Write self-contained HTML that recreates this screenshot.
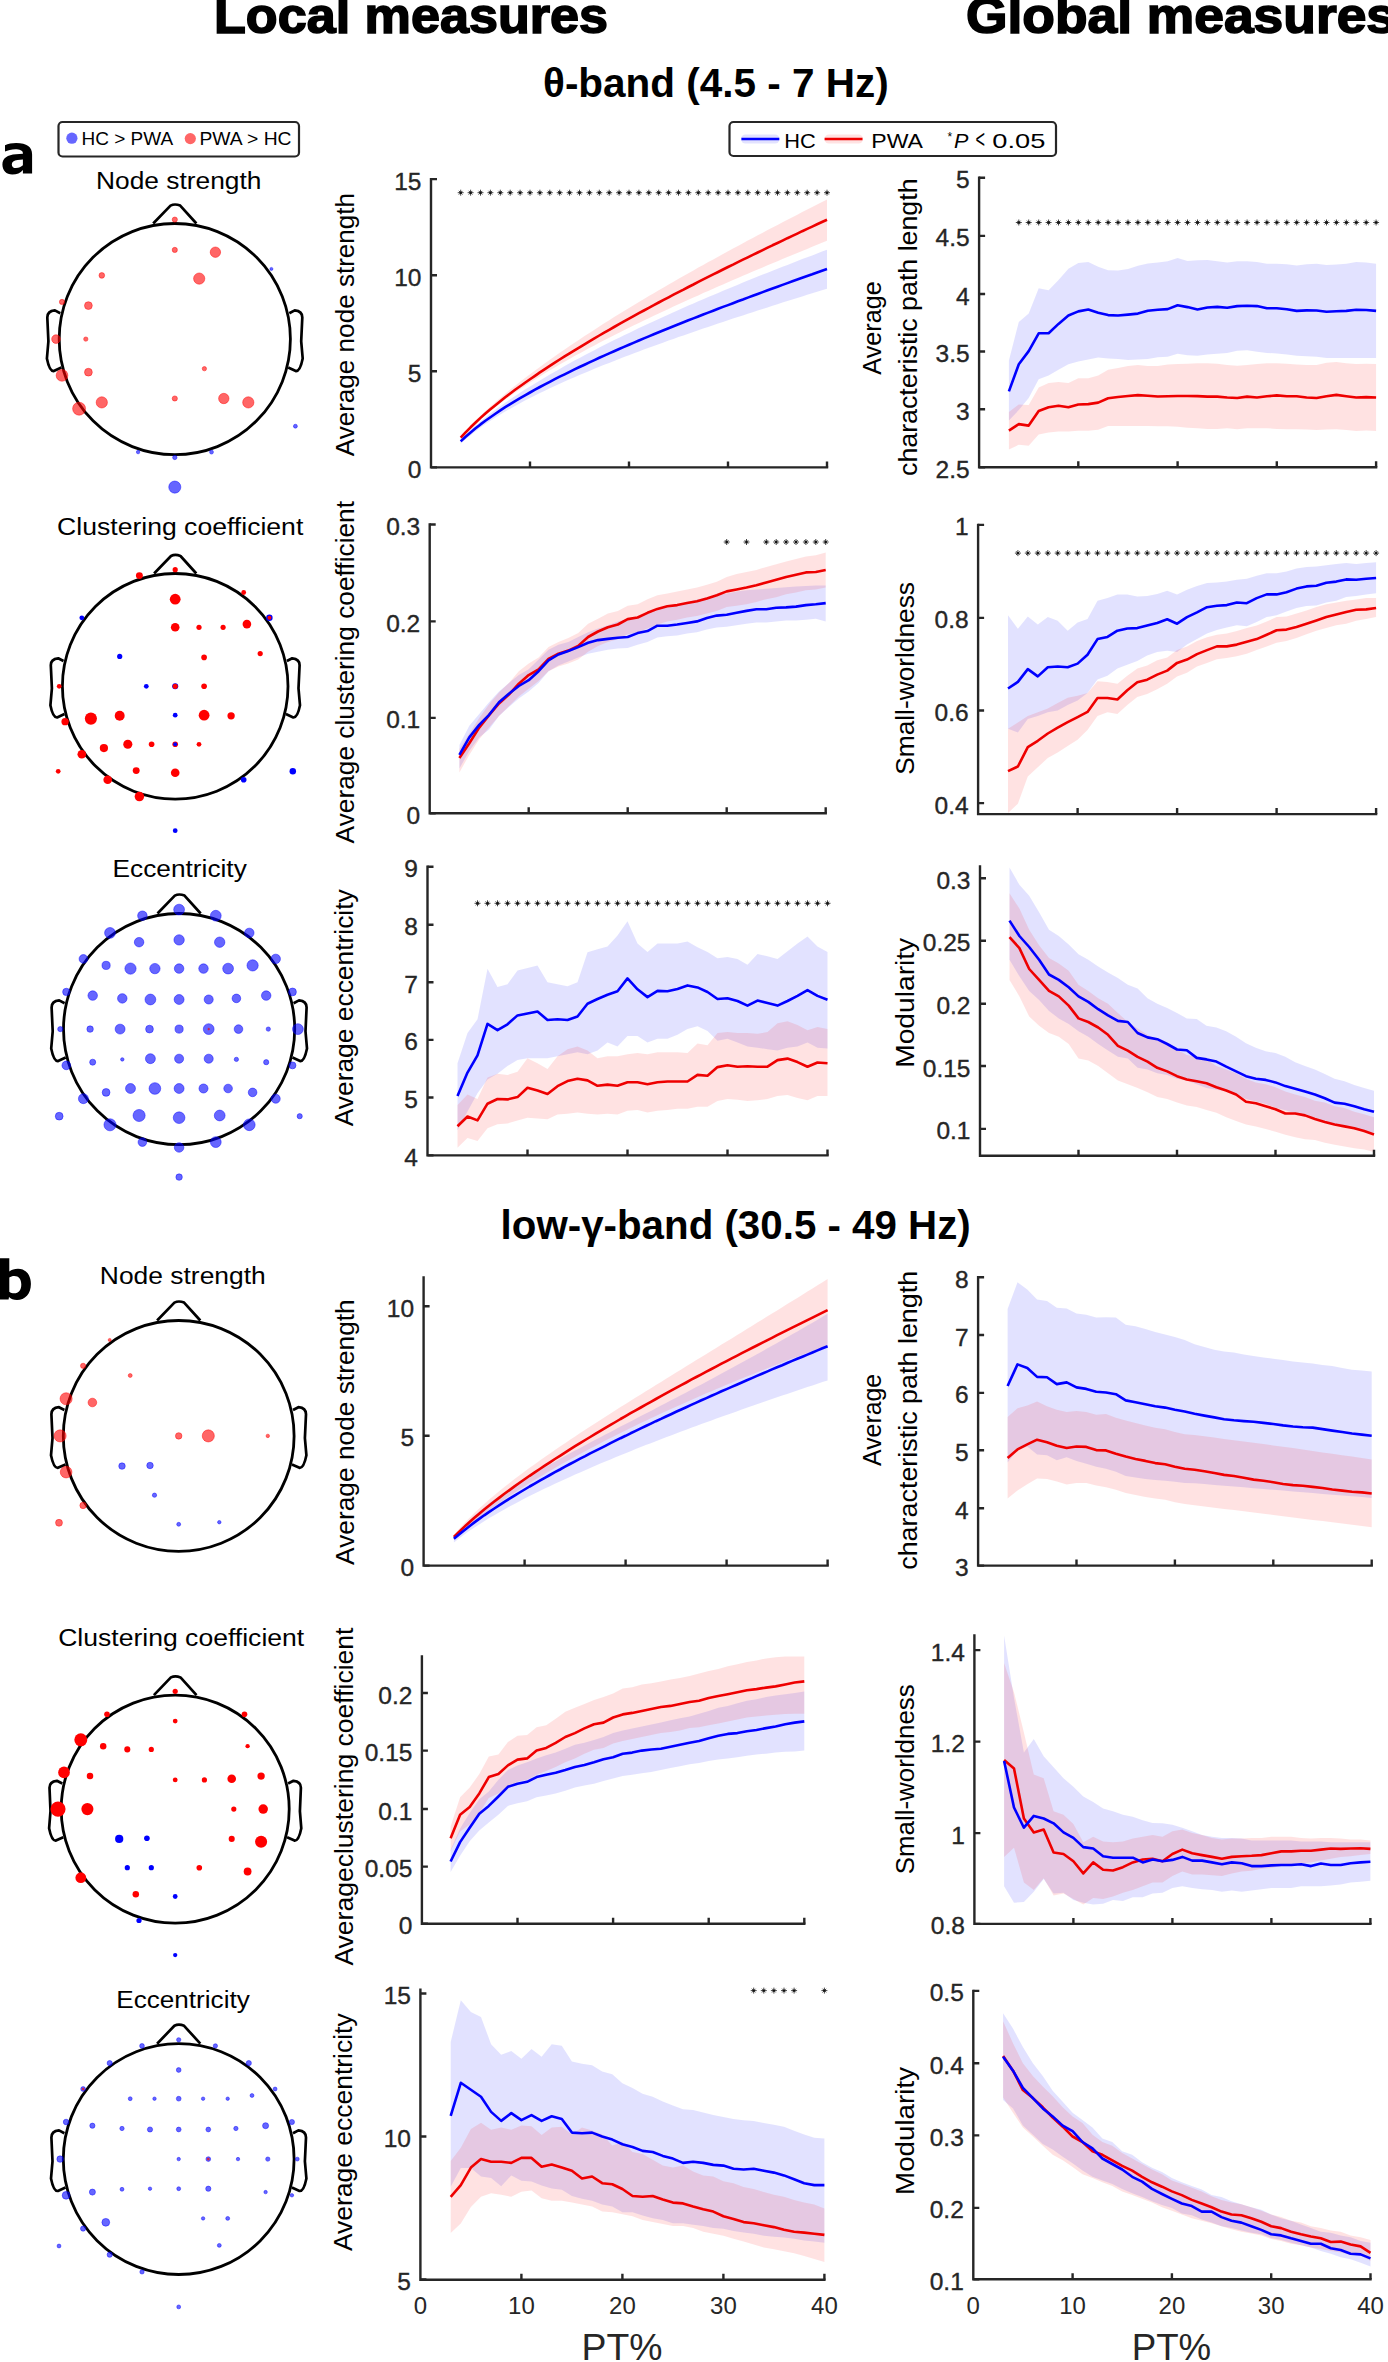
<!DOCTYPE html><html><head><meta charset="utf-8"><style>html,body{margin:0;padding:0;background:#fff;overflow:hidden}svg{display:block}text{font-family:"Liberation Sans", sans-serif}</style></head><body>
<svg width="1388" height="2362" viewBox="0 0 1388 2362">
<rect width="1388" height="2362" fill="#fff"/>
<text x="214.0" y="33.2" font-size="50.0" text-anchor="start" font-weight="bold" fill="#000" textLength="394.0" lengthAdjust="spacingAndGlyphs" stroke="#000" stroke-width="1.6" style="">Local measures</text>
<text x="966.0" y="33.2" font-size="50.0" text-anchor="start" font-weight="bold" fill="#000" textLength="430.0" lengthAdjust="spacingAndGlyphs" stroke="#000" stroke-width="1.6" style="">Global measures</text>
<text x="543.0" y="96.7" font-size="41.0" text-anchor="start" font-weight="bold" fill="#000" textLength="345.8" lengthAdjust="spacingAndGlyphs"  style="">θ-band (4.5 - 7 Hz)</text>
<text x="500.6" y="1239.3" font-size="41.0" text-anchor="start" font-weight="bold" fill="#000" textLength="470.2" lengthAdjust="spacingAndGlyphs"  style="">low-γ-band (30.5 - 49 Hz)</text>
<path fill-rule="evenodd" fill="#000" d="M5.0,145.3 C8,143.8 12,143.1 16.2,143.1 C27,143.1 32.1,147 32.1,154.5 L32.1,173.6 L22.9,173.6 L22.9,169.9 C20.5,172.8 16.8,174.6 12.3,174.6 C6.3,174.6 2.4,170.5 2.4,164.6 C2.4,158 7.5,154.8 16,154.2 L22.9,153.7 L22.9,153.1 C22.9,150.5 19.5,149.3 15.3,149.3 C11.5,149.3 7.8,150.3 5.0,151.6 Z M22.9,159.6 L17.5,159.9 C13.8,160.2 11.8,161.8 11.8,164.4 C11.8,166.8 13.5,168 16,168 C18.8,168 21.2,166.9 22.9,165.3 Z"/>
<path fill-rule="evenodd" fill="#000" d="M-1,1258.2 L9.3,1258.2 L9.3,1271.5 C11.5,1269.7 14.5,1268.7 18,1268.7 C25.5,1268.7 30.9,1274.5 30.9,1284 C30.9,1294 25,1300 17,1300 C13.5,1300 10.8,1298.8 9,1297 L8.6,1299.6 L-1,1299.6 Z M9.3,1277.5 C10.5,1276.4 12.4,1275.9 14.3,1275.9 C18.8,1275.9 21.3,1279 21.3,1284.5 C21.3,1290.3 18.6,1293.3 14.2,1293.3 C12.4,1293.3 10.6,1292.8 9.3,1291.8 Z"/>
<rect x="58.5" y="122" width="240.5" height="34.5" rx="4" fill="#fff" stroke="#262626" stroke-width="2.2"/>
<circle cx="71.9" cy="138.2" r="5.6" fill="#0000ff" fill-opacity="0.6"/>
<circle cx="190.3" cy="138.6" r="5.6" fill="#ff0000" fill-opacity="0.6"/>
<text x="81.5" y="145.0" font-size="18.0" text-anchor="start" font-weight="normal" fill="#000" textLength="91.6" lengthAdjust="spacingAndGlyphs"  style="">HC &gt; PWA</text>
<text x="199.5" y="145.0" font-size="18.0" text-anchor="start" font-weight="normal" fill="#000" textLength="92.0" lengthAdjust="spacingAndGlyphs"  style="">PWA &gt; HC</text>
<rect x="729.5" y="122" width="326.5" height="34" rx="4" fill="#fff" stroke="#262626" stroke-width="2.2"/>
<rect x="741" y="134.5" width="38.5" height="9" rx="4.5" fill="#0000ff" fill-opacity="0.115"/>
<line x1="741.4" y1="139" x2="779.3" y2="139" stroke="#0000ff" stroke-width="2.4"/>
<rect x="824.5" y="134.5" width="38.5" height="9" rx="4.5" fill="#ff0000" fill-opacity="0.115"/>
<line x1="824.6" y1="139" x2="862.5" y2="139" stroke="#ee0000" stroke-width="2.4"/>
<text x="784.3" y="147.5" font-size="21.0" text-anchor="start" font-weight="normal" fill="#000" textLength="31.5" lengthAdjust="spacingAndGlyphs"  style="">HC</text>
<text x="871.3" y="147.5" font-size="21.0" text-anchor="start" font-weight="normal" fill="#000" textLength="51.7" lengthAdjust="spacingAndGlyphs"  style="">PWA</text>
<text x="947.5" y="141.0" font-size="12.0" text-anchor="start" font-weight="normal" fill="#000"  style="">*</text>
<text x="954.0" y="147.5" font-size="21.0" text-anchor="start" font-weight="normal" fill="#000" textLength="14.4" lengthAdjust="spacingAndGlyphs"  style="font-style:italic">P</text>
<text x="975.5" y="147.5" font-size="25.0" text-anchor="start" font-weight="normal" fill="#000" textLength="9.5" lengthAdjust="spacingAndGlyphs"  style="">&lt;</text>
<text x="992.3" y="147.5" font-size="21.0" text-anchor="start" font-weight="normal" fill="#000" textLength="53.0" lengthAdjust="spacingAndGlyphs"  style="">0.05</text>
<text x="178.7" y="189.3" font-size="23.5" text-anchor="middle" font-weight="normal" fill="#000" textLength="165.3" lengthAdjust="spacingAndGlyphs"  style="">Node strength</text>
<text x="180.2" y="534.9" font-size="23.5" text-anchor="middle" font-weight="normal" fill="#000" textLength="246.2" lengthAdjust="spacingAndGlyphs"  style="">Clustering coefficient</text>
<text x="179.7" y="877.2" font-size="23.5" text-anchor="middle" font-weight="normal" fill="#000" textLength="134.2" lengthAdjust="spacingAndGlyphs"  style="">Eccentricity</text>
<text x="182.8" y="1283.9" font-size="23.5" text-anchor="middle" font-weight="normal" fill="#000" textLength="166.0" lengthAdjust="spacingAndGlyphs"  style="">Node strength</text>
<text x="181.2" y="1646.2" font-size="23.5" text-anchor="middle" font-weight="normal" fill="#000" textLength="246.1" lengthAdjust="spacingAndGlyphs"  style="">Clustering coefficient</text>
<text x="183.0" y="2008.2" font-size="23.5" text-anchor="middle" font-weight="normal" fill="#000" textLength="133.5" lengthAdjust="spacingAndGlyphs"  style="">Eccentricity</text>
<path d="M153.2,223.5 L170.5,205.6 Q174.8,203.4 180.2,205.6 L196.4,223.5 M60.3,313.2 L54.9,310.4 Q47.3,311.0 47.3,317.5 L48.4,341.3 L46.9,358.5 Q49.5,371.5 53.8,371.1 L61.4,367.6 M289.3,313.2 L294.7,310.4 Q302.3,311.0 302.3,317.5 L301.2,341.3 L302.7,358.5 Q300.1,371.5 295.8,371.1 L288.2,367.6" fill="none" stroke="#000" stroke-width="2.7" stroke-linejoin="round"/>
<circle cx="174.8" cy="339.1" r="115.6" fill="none" stroke="#000" stroke-width="2.8"/>
<circle cx="174.8" cy="219.6" r="2.59" fill="#ff0000" fill-opacity="0.6" stroke="#ff0000" stroke-opacity="0.45" stroke-width="1"/>
<circle cx="174.8" cy="249.9" r="2.59" fill="#ff0000" fill-opacity="0.6" stroke="#ff0000" stroke-opacity="0.45" stroke-width="1"/>
<circle cx="215.4" cy="252.2" r="5.19" fill="#ff0000" fill-opacity="0.6" stroke="#ff0000" stroke-opacity="0.45" stroke-width="1"/>
<circle cx="101.8" cy="275.4" r="2.81" fill="#ff0000" fill-opacity="0.6" stroke="#ff0000" stroke-opacity="0.45" stroke-width="1"/>
<circle cx="199.2" cy="278.6" r="5.62" fill="#ff0000" fill-opacity="0.6" stroke="#ff0000" stroke-opacity="0.45" stroke-width="1"/>
<circle cx="62.0" cy="301.9" r="2.59" fill="#ff0000" fill-opacity="0.6" stroke="#ff0000" stroke-opacity="0.45" stroke-width="1"/>
<circle cx="88.4" cy="305.6" r="3.89" fill="#ff0000" fill-opacity="0.6" stroke="#ff0000" stroke-opacity="0.45" stroke-width="1"/>
<circle cx="56.0" cy="339.1" r="4.32" fill="#ff0000" fill-opacity="0.6" stroke="#ff0000" stroke-opacity="0.45" stroke-width="1"/>
<circle cx="85.8" cy="339.1" r="2.16" fill="#ff0000" fill-opacity="0.6" stroke="#ff0000" stroke-opacity="0.45" stroke-width="1"/>
<circle cx="204.4" cy="368.7" r="2.16" fill="#ff0000" fill-opacity="0.6" stroke="#ff0000" stroke-opacity="0.45" stroke-width="1"/>
<circle cx="62.0" cy="375.4" r="5.84" fill="#ff0000" fill-opacity="0.6" stroke="#ff0000" stroke-opacity="0.45" stroke-width="1"/>
<circle cx="88.4" cy="372.2" r="3.89" fill="#ff0000" fill-opacity="0.6" stroke="#ff0000" stroke-opacity="0.45" stroke-width="1"/>
<circle cx="79.1" cy="408.7" r="6.48" fill="#ff0000" fill-opacity="0.6" stroke="#ff0000" stroke-opacity="0.45" stroke-width="1"/>
<circle cx="101.8" cy="402.4" r="5.62" fill="#ff0000" fill-opacity="0.6" stroke="#ff0000" stroke-opacity="0.45" stroke-width="1"/>
<circle cx="174.8" cy="398.5" r="2.59" fill="#ff0000" fill-opacity="0.6" stroke="#ff0000" stroke-opacity="0.45" stroke-width="1"/>
<circle cx="223.8" cy="398.5" r="5.19" fill="#ff0000" fill-opacity="0.6" stroke="#ff0000" stroke-opacity="0.45" stroke-width="1"/>
<circle cx="248.3" cy="402.4" r="5.62" fill="#ff0000" fill-opacity="0.6" stroke="#ff0000" stroke-opacity="0.45" stroke-width="1"/>
<circle cx="271.4" cy="268.9" r="1.51" fill="#0000ff" fill-opacity="0.6" stroke="#0000ff" stroke-opacity="0.45" stroke-width="1"/>
<circle cx="295.4" cy="426.2" r="1.95" fill="#0000ff" fill-opacity="0.6" stroke="#0000ff" stroke-opacity="0.45" stroke-width="1"/>
<circle cx="138.1" cy="452.1" r="1.73" fill="#0000ff" fill-opacity="0.6" stroke="#0000ff" stroke-opacity="0.45" stroke-width="1"/>
<circle cx="174.8" cy="457.5" r="2.16" fill="#0000ff" fill-opacity="0.6" stroke="#0000ff" stroke-opacity="0.45" stroke-width="1"/>
<circle cx="211.5" cy="452.1" r="1.95" fill="#0000ff" fill-opacity="0.6" stroke="#0000ff" stroke-opacity="0.45" stroke-width="1"/>
<circle cx="174.8" cy="487.1" r="6.05" fill="#0000ff" fill-opacity="0.6" stroke="#0000ff" stroke-opacity="0.45" stroke-width="1"/>
<path d="M154.1,573.5 L171.0,556.0 Q175.2,553.9 180.5,556.0 L196.3,573.5 M63.5,661.0 L58.2,658.3 Q50.8,658.9 50.8,665.2 L51.9,688.4 L50.4,705.3 Q52.9,717.9 57.1,717.5 L64.5,714.1 M286.9,661.0 L292.2,658.3 Q299.6,658.9 299.6,665.2 L298.5,688.4 L300.0,705.3 Q297.5,717.9 293.3,717.5 L285.9,714.1" fill="none" stroke="#000" stroke-width="2.7" stroke-linejoin="round"/>
<circle cx="175.2" cy="686.3" r="112.8" fill="none" stroke="#000" stroke-width="2.8"/>
<circle cx="175.2" cy="686.3" r="3.03" fill="#0000ff"/>
<circle cx="175.2" cy="569.7" r="2.59" fill="#ff0000"/>
<circle cx="139.4" cy="575.6" r="3.46" fill="#ff0000"/>
<circle cx="243.7" cy="592.5" r="2.38" fill="#ff0000"/>
<circle cx="175.2" cy="599.2" r="5.40" fill="#ff0000"/>
<circle cx="175.2" cy="627.3" r="4.32" fill="#ff0000"/>
<circle cx="199.0" cy="627.3" r="2.59" fill="#ff0000"/>
<circle cx="223.1" cy="627.3" r="2.59" fill="#ff0000"/>
<circle cx="246.9" cy="624.1" r="4.32" fill="#ff0000"/>
<circle cx="260.2" cy="653.6" r="2.59" fill="#ff0000"/>
<circle cx="204.1" cy="657.4" r="2.81" fill="#ff0000"/>
<circle cx="59.2" cy="686.3" r="2.38" fill="#ff0000"/>
<circle cx="175.2" cy="686.3" r="2.59" fill="#ff0000"/>
<circle cx="204.1" cy="686.3" r="2.81" fill="#ff0000"/>
<circle cx="90.9" cy="718.6" r="6.05" fill="#ff0000"/>
<circle cx="119.7" cy="715.8" r="4.97" fill="#ff0000"/>
<circle cx="204.1" cy="715.2" r="5.40" fill="#ff0000"/>
<circle cx="231.1" cy="715.8" r="3.67" fill="#ff0000"/>
<circle cx="65.1" cy="721.7" r="3.67" fill="#ff0000"/>
<circle cx="103.9" cy="748.1" r="4.11" fill="#ff0000"/>
<circle cx="127.8" cy="744.3" r="4.54" fill="#ff0000"/>
<circle cx="151.6" cy="744.3" r="2.81" fill="#ff0000"/>
<circle cx="175.2" cy="744.3" r="2.81" fill="#ff0000"/>
<circle cx="199.0" cy="744.3" r="2.38" fill="#ff0000"/>
<circle cx="81.8" cy="754.2" r="4.32" fill="#ff0000"/>
<circle cx="58.2" cy="771.3" r="2.38" fill="#ff0000"/>
<circle cx="136.2" cy="770.6" r="3.46" fill="#ff0000"/>
<circle cx="175.2" cy="772.7" r="4.32" fill="#ff0000"/>
<circle cx="107.7" cy="779.7" r="4.32" fill="#ff0000"/>
<circle cx="139.4" cy="796.6" r="4.75" fill="#ff0000"/>
<circle cx="81.8" cy="617.8" r="2.38" fill="#0000ff"/>
<circle cx="269.4" cy="617.8" r="3.24" fill="#0000ff"/>
<circle cx="119.7" cy="656.4" r="2.59" fill="#0000ff"/>
<circle cx="146.3" cy="686.3" r="2.38" fill="#0000ff"/>
<circle cx="175.2" cy="715.2" r="2.38" fill="#0000ff"/>
<circle cx="292.8" cy="771.3" r="3.24" fill="#0000ff"/>
<circle cx="243.7" cy="779.7" r="2.81" fill="#0000ff"/>
<circle cx="175.2" cy="830.7" r="2.38" fill="#0000ff"/>
<circle cx="175.2" cy="744.3" r="1.95" fill="#0000ff"/>
<circle cx="269.4" cy="617.8" r="1.95" fill="#ff0000"/>
<path d="M157.5,913.5 L174.8,895.6 Q179.1,893.4 184.5,895.6 L200.7,913.5 M64.6,1003.2 L59.2,1000.4 Q51.6,1001.0 51.6,1007.5 L52.7,1031.3 L51.2,1048.5 Q53.8,1061.5 58.1,1061.1 L65.7,1057.6 M293.6,1003.2 L299.0,1000.4 Q306.6,1001.0 306.6,1007.5 L305.5,1031.3 L307.0,1048.5 Q304.4,1061.5 300.1,1061.1 L292.5,1057.6" fill="none" stroke="#000" stroke-width="2.7" stroke-linejoin="round"/>
<circle cx="179.1" cy="1029.1" r="115.6" fill="none" stroke="#000" stroke-width="2.8"/>
<circle cx="179.1" cy="909.6" r="5.40" fill="#0000ff" fill-opacity="0.6" stroke="#0000ff" stroke-opacity="0.45" stroke-width="1"/>
<circle cx="142.4" cy="915.7" r="4.75" fill="#0000ff" fill-opacity="0.6" stroke="#0000ff" stroke-opacity="0.45" stroke-width="1"/>
<circle cx="215.8" cy="915.7" r="5.40" fill="#0000ff" fill-opacity="0.6" stroke="#0000ff" stroke-opacity="0.45" stroke-width="1"/>
<circle cx="110.0" cy="932.9" r="5.40" fill="#0000ff" fill-opacity="0.6" stroke="#0000ff" stroke-opacity="0.45" stroke-width="1"/>
<circle cx="249.3" cy="932.9" r="4.75" fill="#0000ff" fill-opacity="0.6" stroke="#0000ff" stroke-opacity="0.45" stroke-width="1"/>
<circle cx="179.1" cy="939.9" r="5.19" fill="#0000ff" fill-opacity="0.6" stroke="#0000ff" stroke-opacity="0.45" stroke-width="1"/>
<circle cx="139.1" cy="942.2" r="4.75" fill="#0000ff" fill-opacity="0.6" stroke="#0000ff" stroke-opacity="0.45" stroke-width="1"/>
<circle cx="219.7" cy="942.2" r="5.19" fill="#0000ff" fill-opacity="0.6" stroke="#0000ff" stroke-opacity="0.45" stroke-width="1"/>
<circle cx="83.4" cy="958.9" r="4.32" fill="#0000ff" fill-opacity="0.6" stroke="#0000ff" stroke-opacity="0.45" stroke-width="1"/>
<circle cx="275.7" cy="958.9" r="4.75" fill="#0000ff" fill-opacity="0.6" stroke="#0000ff" stroke-opacity="0.45" stroke-width="1"/>
<circle cx="106.1" cy="965.4" r="4.11" fill="#0000ff" fill-opacity="0.6" stroke="#0000ff" stroke-opacity="0.45" stroke-width="1"/>
<circle cx="252.6" cy="965.4" r="5.62" fill="#0000ff" fill-opacity="0.6" stroke="#0000ff" stroke-opacity="0.45" stroke-width="1"/>
<circle cx="130.5" cy="968.6" r="5.62" fill="#0000ff" fill-opacity="0.6" stroke="#0000ff" stroke-opacity="0.45" stroke-width="1"/>
<circle cx="154.9" cy="968.6" r="5.19" fill="#0000ff" fill-opacity="0.6" stroke="#0000ff" stroke-opacity="0.45" stroke-width="1"/>
<circle cx="179.1" cy="968.6" r="4.75" fill="#0000ff" fill-opacity="0.6" stroke="#0000ff" stroke-opacity="0.45" stroke-width="1"/>
<circle cx="203.5" cy="968.6" r="4.75" fill="#0000ff" fill-opacity="0.6" stroke="#0000ff" stroke-opacity="0.45" stroke-width="1"/>
<circle cx="228.1" cy="968.6" r="5.40" fill="#0000ff" fill-opacity="0.6" stroke="#0000ff" stroke-opacity="0.45" stroke-width="1"/>
<circle cx="66.3" cy="991.9" r="3.67" fill="#0000ff" fill-opacity="0.6" stroke="#0000ff" stroke-opacity="0.45" stroke-width="1"/>
<circle cx="292.5" cy="991.9" r="3.89" fill="#0000ff" fill-opacity="0.6" stroke="#0000ff" stroke-opacity="0.45" stroke-width="1"/>
<circle cx="92.7" cy="995.6" r="4.75" fill="#0000ff" fill-opacity="0.6" stroke="#0000ff" stroke-opacity="0.45" stroke-width="1"/>
<circle cx="266.2" cy="995.6" r="4.75" fill="#0000ff" fill-opacity="0.6" stroke="#0000ff" stroke-opacity="0.45" stroke-width="1"/>
<circle cx="122.3" cy="998.4" r="4.75" fill="#0000ff" fill-opacity="0.6" stroke="#0000ff" stroke-opacity="0.45" stroke-width="1"/>
<circle cx="236.4" cy="998.4" r="4.32" fill="#0000ff" fill-opacity="0.6" stroke="#0000ff" stroke-opacity="0.45" stroke-width="1"/>
<circle cx="150.4" cy="999.5" r="5.40" fill="#0000ff" fill-opacity="0.6" stroke="#0000ff" stroke-opacity="0.45" stroke-width="1"/>
<circle cx="179.1" cy="999.5" r="4.97" fill="#0000ff" fill-opacity="0.6" stroke="#0000ff" stroke-opacity="0.45" stroke-width="1"/>
<circle cx="208.7" cy="999.5" r="4.54" fill="#0000ff" fill-opacity="0.6" stroke="#0000ff" stroke-opacity="0.45" stroke-width="1"/>
<circle cx="60.3" cy="1029.1" r="2.59" fill="#0000ff" fill-opacity="0.6" stroke="#0000ff" stroke-opacity="0.45" stroke-width="1"/>
<circle cx="90.1" cy="1029.1" r="3.24" fill="#0000ff" fill-opacity="0.6" stroke="#0000ff" stroke-opacity="0.45" stroke-width="1"/>
<circle cx="120.1" cy="1029.1" r="4.97" fill="#0000ff" fill-opacity="0.6" stroke="#0000ff" stroke-opacity="0.45" stroke-width="1"/>
<circle cx="149.5" cy="1029.1" r="3.89" fill="#0000ff" fill-opacity="0.6" stroke="#0000ff" stroke-opacity="0.45" stroke-width="1"/>
<circle cx="179.1" cy="1029.1" r="4.11" fill="#0000ff" fill-opacity="0.6" stroke="#0000ff" stroke-opacity="0.45" stroke-width="1"/>
<circle cx="208.7" cy="1029.1" r="5.40" fill="#0000ff" fill-opacity="0.6" stroke="#0000ff" stroke-opacity="0.45" stroke-width="1"/>
<circle cx="238.5" cy="1029.1" r="4.32" fill="#0000ff" fill-opacity="0.6" stroke="#0000ff" stroke-opacity="0.45" stroke-width="1"/>
<circle cx="268.3" cy="1029.1" r="2.16" fill="#0000ff" fill-opacity="0.6" stroke="#0000ff" stroke-opacity="0.45" stroke-width="1"/>
<circle cx="297.9" cy="1029.1" r="5.40" fill="#0000ff" fill-opacity="0.6" stroke="#0000ff" stroke-opacity="0.45" stroke-width="1"/>
<circle cx="150.4" cy="1058.7" r="4.97" fill="#0000ff" fill-opacity="0.6" stroke="#0000ff" stroke-opacity="0.45" stroke-width="1"/>
<circle cx="179.1" cy="1058.7" r="4.54" fill="#0000ff" fill-opacity="0.6" stroke="#0000ff" stroke-opacity="0.45" stroke-width="1"/>
<circle cx="208.7" cy="1058.7" r="4.54" fill="#0000ff" fill-opacity="0.6" stroke="#0000ff" stroke-opacity="0.45" stroke-width="1"/>
<circle cx="122.3" cy="1059.4" r="1.73" fill="#0000ff" fill-opacity="0.6" stroke="#0000ff" stroke-opacity="0.45" stroke-width="1"/>
<circle cx="236.4" cy="1059.4" r="2.16" fill="#0000ff" fill-opacity="0.6" stroke="#0000ff" stroke-opacity="0.45" stroke-width="1"/>
<circle cx="92.7" cy="1062.2" r="3.03" fill="#0000ff" fill-opacity="0.6" stroke="#0000ff" stroke-opacity="0.45" stroke-width="1"/>
<circle cx="266.2" cy="1062.2" r="2.59" fill="#0000ff" fill-opacity="0.6" stroke="#0000ff" stroke-opacity="0.45" stroke-width="1"/>
<circle cx="66.3" cy="1065.4" r="4.32" fill="#0000ff" fill-opacity="0.6" stroke="#0000ff" stroke-opacity="0.45" stroke-width="1"/>
<circle cx="292.5" cy="1065.4" r="3.46" fill="#0000ff" fill-opacity="0.6" stroke="#0000ff" stroke-opacity="0.45" stroke-width="1"/>
<circle cx="130.5" cy="1088.5" r="4.97" fill="#0000ff" fill-opacity="0.6" stroke="#0000ff" stroke-opacity="0.45" stroke-width="1"/>
<circle cx="154.9" cy="1088.5" r="5.84" fill="#0000ff" fill-opacity="0.6" stroke="#0000ff" stroke-opacity="0.45" stroke-width="1"/>
<circle cx="179.1" cy="1088.5" r="4.97" fill="#0000ff" fill-opacity="0.6" stroke="#0000ff" stroke-opacity="0.45" stroke-width="1"/>
<circle cx="203.5" cy="1088.5" r="4.54" fill="#0000ff" fill-opacity="0.6" stroke="#0000ff" stroke-opacity="0.45" stroke-width="1"/>
<circle cx="228.1" cy="1088.5" r="4.32" fill="#0000ff" fill-opacity="0.6" stroke="#0000ff" stroke-opacity="0.45" stroke-width="1"/>
<circle cx="106.1" cy="1092.4" r="3.89" fill="#0000ff" fill-opacity="0.6" stroke="#0000ff" stroke-opacity="0.45" stroke-width="1"/>
<circle cx="252.6" cy="1092.4" r="4.32" fill="#0000ff" fill-opacity="0.6" stroke="#0000ff" stroke-opacity="0.45" stroke-width="1"/>
<circle cx="83.4" cy="1098.7" r="4.97" fill="#0000ff" fill-opacity="0.6" stroke="#0000ff" stroke-opacity="0.45" stroke-width="1"/>
<circle cx="275.7" cy="1098.7" r="4.54" fill="#0000ff" fill-opacity="0.6" stroke="#0000ff" stroke-opacity="0.45" stroke-width="1"/>
<circle cx="139.1" cy="1115.5" r="6.05" fill="#0000ff" fill-opacity="0.6" stroke="#0000ff" stroke-opacity="0.45" stroke-width="1"/>
<circle cx="219.7" cy="1115.5" r="5.40" fill="#0000ff" fill-opacity="0.6" stroke="#0000ff" stroke-opacity="0.45" stroke-width="1"/>
<circle cx="179.1" cy="1117.7" r="5.84" fill="#0000ff" fill-opacity="0.6" stroke="#0000ff" stroke-opacity="0.45" stroke-width="1"/>
<circle cx="59.2" cy="1116.2" r="3.89" fill="#0000ff" fill-opacity="0.6" stroke="#0000ff" stroke-opacity="0.45" stroke-width="1"/>
<circle cx="299.7" cy="1116.2" r="2.59" fill="#0000ff" fill-opacity="0.6" stroke="#0000ff" stroke-opacity="0.45" stroke-width="1"/>
<circle cx="110.0" cy="1124.8" r="6.05" fill="#0000ff" fill-opacity="0.6" stroke="#0000ff" stroke-opacity="0.45" stroke-width="1"/>
<circle cx="249.3" cy="1124.8" r="5.84" fill="#0000ff" fill-opacity="0.6" stroke="#0000ff" stroke-opacity="0.45" stroke-width="1"/>
<circle cx="142.4" cy="1142.1" r="4.32" fill="#0000ff" fill-opacity="0.6" stroke="#0000ff" stroke-opacity="0.45" stroke-width="1"/>
<circle cx="215.8" cy="1142.1" r="5.40" fill="#0000ff" fill-opacity="0.6" stroke="#0000ff" stroke-opacity="0.45" stroke-width="1"/>
<circle cx="179.1" cy="1147.5" r="4.75" fill="#0000ff" fill-opacity="0.6" stroke="#0000ff" stroke-opacity="0.45" stroke-width="1"/>
<circle cx="179.1" cy="1177.1" r="3.24" fill="#0000ff" fill-opacity="0.6" stroke="#0000ff" stroke-opacity="0.45" stroke-width="1"/>
<circle cx="208.7" cy="1029.1" r="0.86" fill="#ff0000" fill-opacity="0.6" stroke="#ff0000" stroke-opacity="0.45" stroke-width="1"/>
<path d="M157.1,1320.5 L174.4,1302.6 Q178.7,1300.4 184.1,1302.6 L200.3,1320.5 M64.4,1410.0 L59.0,1407.2 Q51.4,1407.9 51.4,1414.3 L52.5,1438.1 L51.0,1455.3 Q53.6,1468.3 57.9,1467.8 L65.5,1464.4 M293.0,1410.0 L298.4,1407.2 Q306.0,1407.9 306.0,1414.3 L304.9,1438.1 L306.4,1455.3 Q303.8,1468.3 299.5,1467.8 L291.9,1464.4" fill="none" stroke="#000" stroke-width="2.7" stroke-linejoin="round"/>
<circle cx="178.7" cy="1435.9" r="115.4" fill="none" stroke="#000" stroke-width="2.8"/>
<circle cx="109.7" cy="1339.9" r="1.51" fill="#ff0000" fill-opacity="0.6" stroke="#ff0000" stroke-opacity="0.45" stroke-width="1"/>
<circle cx="83.1" cy="1365.8" r="2.59" fill="#ff0000" fill-opacity="0.6" stroke="#ff0000" stroke-opacity="0.45" stroke-width="1"/>
<circle cx="130.2" cy="1375.5" r="1.95" fill="#ff0000" fill-opacity="0.6" stroke="#ff0000" stroke-opacity="0.45" stroke-width="1"/>
<circle cx="66.1" cy="1398.8" r="6.05" fill="#ff0000" fill-opacity="0.6" stroke="#ff0000" stroke-opacity="0.45" stroke-width="1"/>
<circle cx="92.4" cy="1402.5" r="4.32" fill="#ff0000" fill-opacity="0.6" stroke="#ff0000" stroke-opacity="0.45" stroke-width="1"/>
<circle cx="60.1" cy="1435.9" r="6.05" fill="#ff0000" fill-opacity="0.6" stroke="#ff0000" stroke-opacity="0.45" stroke-width="1"/>
<circle cx="178.7" cy="1435.9" r="3.24" fill="#ff0000" fill-opacity="0.6" stroke="#ff0000" stroke-opacity="0.45" stroke-width="1"/>
<circle cx="208.3" cy="1435.9" r="6.05" fill="#ff0000" fill-opacity="0.6" stroke="#ff0000" stroke-opacity="0.45" stroke-width="1"/>
<circle cx="267.8" cy="1435.9" r="1.73" fill="#ff0000" fill-opacity="0.6" stroke="#ff0000" stroke-opacity="0.45" stroke-width="1"/>
<circle cx="66.1" cy="1472.1" r="5.84" fill="#ff0000" fill-opacity="0.6" stroke="#ff0000" stroke-opacity="0.45" stroke-width="1"/>
<circle cx="83.1" cy="1505.4" r="3.24" fill="#ff0000" fill-opacity="0.6" stroke="#ff0000" stroke-opacity="0.45" stroke-width="1"/>
<circle cx="59.0" cy="1522.8" r="3.46" fill="#ff0000" fill-opacity="0.6" stroke="#ff0000" stroke-opacity="0.45" stroke-width="1"/>
<circle cx="122.0" cy="1466.1" r="3.24" fill="#0000ff" fill-opacity="0.6" stroke="#0000ff" stroke-opacity="0.45" stroke-width="1"/>
<circle cx="150.0" cy="1465.5" r="3.24" fill="#0000ff" fill-opacity="0.6" stroke="#0000ff" stroke-opacity="0.45" stroke-width="1"/>
<circle cx="154.5" cy="1495.2" r="2.16" fill="#0000ff" fill-opacity="0.6" stroke="#0000ff" stroke-opacity="0.45" stroke-width="1"/>
<circle cx="178.7" cy="1524.3" r="1.95" fill="#0000ff" fill-opacity="0.6" stroke="#0000ff" stroke-opacity="0.45" stroke-width="1"/>
<circle cx="219.3" cy="1522.2" r="1.73" fill="#0000ff" fill-opacity="0.6" stroke="#0000ff" stroke-opacity="0.45" stroke-width="1"/>
<path d="M153.9,1695.1 L170.9,1677.4 Q175.2,1675.3 180.5,1677.4 L196.5,1695.1 M62.3,1783.5 L56.9,1780.8 Q49.5,1781.4 49.5,1787.8 L50.5,1811.2 L49.1,1828.3 Q51.6,1841.1 55.9,1840.6 L63.3,1837.2 M288.1,1783.5 L293.5,1780.8 Q300.9,1781.4 300.9,1787.8 L299.9,1811.2 L301.3,1828.3 Q298.8,1841.1 294.5,1840.6 L287.1,1837.2" fill="none" stroke="#000" stroke-width="2.7" stroke-linejoin="round"/>
<circle cx="175.2" cy="1809.1" r="114.0" fill="none" stroke="#000" stroke-width="2.8"/>
<circle cx="175.2" cy="1691.3" r="2.59" fill="#ff0000"/>
<circle cx="107.0" cy="1714.3" r="2.81" fill="#ff0000"/>
<circle cx="244.5" cy="1714.3" r="2.81" fill="#ff0000"/>
<circle cx="175.2" cy="1721.1" r="2.38" fill="#ff0000"/>
<circle cx="80.8" cy="1739.8" r="6.48" fill="#ff0000"/>
<circle cx="103.2" cy="1746.2" r="3.24" fill="#ff0000"/>
<circle cx="127.3" cy="1749.4" r="3.03" fill="#ff0000"/>
<circle cx="151.3" cy="1749.4" r="2.59" fill="#ff0000"/>
<circle cx="247.6" cy="1746.2" r="2.16" fill="#ff0000"/>
<circle cx="64.0" cy="1772.4" r="5.84" fill="#ff0000"/>
<circle cx="90.0" cy="1776.1" r="3.24" fill="#ff0000"/>
<circle cx="175.2" cy="1779.9" r="2.38" fill="#ff0000"/>
<circle cx="204.4" cy="1779.9" r="2.59" fill="#ff0000"/>
<circle cx="231.7" cy="1778.8" r="4.32" fill="#ff0000"/>
<circle cx="261.1" cy="1776.1" r="3.67" fill="#ff0000"/>
<circle cx="58.0" cy="1809.1" r="7.56" fill="#ff0000"/>
<circle cx="87.4" cy="1809.1" r="6.05" fill="#ff0000"/>
<circle cx="233.8" cy="1809.1" r="2.59" fill="#ff0000"/>
<circle cx="263.2" cy="1809.1" r="4.75" fill="#ff0000"/>
<circle cx="231.7" cy="1838.9" r="3.03" fill="#ff0000"/>
<circle cx="261.1" cy="1841.7" r="6.05" fill="#ff0000"/>
<circle cx="199.3" cy="1867.7" r="2.81" fill="#ff0000"/>
<circle cx="247.6" cy="1871.5" r="3.89" fill="#ff0000"/>
<circle cx="80.8" cy="1877.7" r="5.40" fill="#ff0000"/>
<circle cx="135.8" cy="1894.3" r="3.24" fill="#ff0000"/>
<circle cx="119.2" cy="1838.9" r="4.11" fill="#0000ff"/>
<circle cx="146.9" cy="1838.3" r="2.81" fill="#0000ff"/>
<circle cx="127.3" cy="1867.7" r="2.59" fill="#0000ff"/>
<circle cx="151.3" cy="1867.7" r="2.59" fill="#0000ff"/>
<circle cx="175.2" cy="1896.5" r="2.38" fill="#0000ff"/>
<circle cx="139.0" cy="1920.5" r="2.59" fill="#0000ff"/>
<circle cx="175.2" cy="1955.1" r="2.16" fill="#0000ff"/>
<path d="M157.1,2043.7 L174.4,2025.8 Q178.7,2023.6 184.1,2025.8 L200.3,2043.7 M64.4,2133.2 L59.0,2130.4 Q51.4,2131.1 51.4,2137.5 L52.5,2161.3 L51.0,2178.5 Q53.6,2191.5 57.9,2191.0 L65.5,2187.6 M293.0,2133.2 L298.4,2130.4 Q306.0,2131.1 306.0,2137.5 L304.9,2161.3 L306.4,2178.5 Q303.8,2191.5 299.5,2191.0 L291.9,2187.6" fill="none" stroke="#000" stroke-width="2.7" stroke-linejoin="round"/>
<circle cx="178.7" cy="2159.1" r="115.4" fill="none" stroke="#000" stroke-width="2.8"/>
<circle cx="178.7" cy="2039.8" r="2.16" fill="#0000ff" fill-opacity="0.6" stroke="#0000ff" stroke-opacity="0.45" stroke-width="1"/>
<circle cx="142.0" cy="2045.9" r="2.38" fill="#0000ff" fill-opacity="0.6" stroke="#0000ff" stroke-opacity="0.45" stroke-width="1"/>
<circle cx="215.4" cy="2045.9" r="2.16" fill="#0000ff" fill-opacity="0.6" stroke="#0000ff" stroke-opacity="0.45" stroke-width="1"/>
<circle cx="109.7" cy="2063.1" r="2.59" fill="#0000ff" fill-opacity="0.6" stroke="#0000ff" stroke-opacity="0.45" stroke-width="1"/>
<circle cx="248.8" cy="2063.1" r="2.59" fill="#0000ff" fill-opacity="0.6" stroke="#0000ff" stroke-opacity="0.45" stroke-width="1"/>
<circle cx="178.7" cy="2070.0" r="2.38" fill="#0000ff" fill-opacity="0.6" stroke="#0000ff" stroke-opacity="0.45" stroke-width="1"/>
<circle cx="83.1" cy="2089.0" r="2.38" fill="#0000ff" fill-opacity="0.6" stroke="#0000ff" stroke-opacity="0.45" stroke-width="1"/>
<circle cx="275.1" cy="2089.0" r="1.95" fill="#0000ff" fill-opacity="0.6" stroke="#0000ff" stroke-opacity="0.45" stroke-width="1"/>
<circle cx="130.2" cy="2098.7" r="1.95" fill="#0000ff" fill-opacity="0.6" stroke="#0000ff" stroke-opacity="0.45" stroke-width="1"/>
<circle cx="154.5" cy="2098.7" r="1.73" fill="#0000ff" fill-opacity="0.6" stroke="#0000ff" stroke-opacity="0.45" stroke-width="1"/>
<circle cx="178.7" cy="2098.7" r="2.38" fill="#0000ff" fill-opacity="0.6" stroke="#0000ff" stroke-opacity="0.45" stroke-width="1"/>
<circle cx="203.1" cy="2098.7" r="1.73" fill="#0000ff" fill-opacity="0.6" stroke="#0000ff" stroke-opacity="0.45" stroke-width="1"/>
<circle cx="227.7" cy="2098.7" r="1.73" fill="#0000ff" fill-opacity="0.6" stroke="#0000ff" stroke-opacity="0.45" stroke-width="1"/>
<circle cx="252.0" cy="2095.5" r="1.95" fill="#0000ff" fill-opacity="0.6" stroke="#0000ff" stroke-opacity="0.45" stroke-width="1"/>
<circle cx="66.1" cy="2122.0" r="2.81" fill="#0000ff" fill-opacity="0.6" stroke="#0000ff" stroke-opacity="0.45" stroke-width="1"/>
<circle cx="291.9" cy="2122.0" r="2.59" fill="#0000ff" fill-opacity="0.6" stroke="#0000ff" stroke-opacity="0.45" stroke-width="1"/>
<circle cx="92.4" cy="2125.7" r="2.59" fill="#0000ff" fill-opacity="0.6" stroke="#0000ff" stroke-opacity="0.45" stroke-width="1"/>
<circle cx="265.6" cy="2125.7" r="3.03" fill="#0000ff" fill-opacity="0.6" stroke="#0000ff" stroke-opacity="0.45" stroke-width="1"/>
<circle cx="122.0" cy="2128.5" r="2.16" fill="#0000ff" fill-opacity="0.6" stroke="#0000ff" stroke-opacity="0.45" stroke-width="1"/>
<circle cx="235.9" cy="2128.5" r="2.16" fill="#0000ff" fill-opacity="0.6" stroke="#0000ff" stroke-opacity="0.45" stroke-width="1"/>
<circle cx="150.0" cy="2129.5" r="2.59" fill="#0000ff" fill-opacity="0.6" stroke="#0000ff" stroke-opacity="0.45" stroke-width="1"/>
<circle cx="178.7" cy="2129.5" r="2.38" fill="#0000ff" fill-opacity="0.6" stroke="#0000ff" stroke-opacity="0.45" stroke-width="1"/>
<circle cx="208.3" cy="2129.5" r="2.38" fill="#0000ff" fill-opacity="0.6" stroke="#0000ff" stroke-opacity="0.45" stroke-width="1"/>
<circle cx="60.1" cy="2159.1" r="3.24" fill="#0000ff" fill-opacity="0.6" stroke="#0000ff" stroke-opacity="0.45" stroke-width="1"/>
<circle cx="178.7" cy="2159.1" r="1.73" fill="#0000ff" fill-opacity="0.6" stroke="#0000ff" stroke-opacity="0.45" stroke-width="1"/>
<circle cx="208.3" cy="2159.1" r="2.38" fill="#0000ff" fill-opacity="0.6" stroke="#0000ff" stroke-opacity="0.45" stroke-width="1"/>
<circle cx="238.0" cy="2159.1" r="1.73" fill="#0000ff" fill-opacity="0.6" stroke="#0000ff" stroke-opacity="0.45" stroke-width="1"/>
<circle cx="267.8" cy="2159.1" r="2.16" fill="#0000ff" fill-opacity="0.6" stroke="#0000ff" stroke-opacity="0.45" stroke-width="1"/>
<circle cx="297.3" cy="2159.1" r="1.95" fill="#0000ff" fill-opacity="0.6" stroke="#0000ff" stroke-opacity="0.45" stroke-width="1"/>
<circle cx="122.0" cy="2189.3" r="1.95" fill="#0000ff" fill-opacity="0.6" stroke="#0000ff" stroke-opacity="0.45" stroke-width="1"/>
<circle cx="150.0" cy="2188.7" r="1.73" fill="#0000ff" fill-opacity="0.6" stroke="#0000ff" stroke-opacity="0.45" stroke-width="1"/>
<circle cx="178.7" cy="2188.7" r="1.95" fill="#0000ff" fill-opacity="0.6" stroke="#0000ff" stroke-opacity="0.45" stroke-width="1"/>
<circle cx="208.3" cy="2188.7" r="2.59" fill="#0000ff" fill-opacity="0.6" stroke="#0000ff" stroke-opacity="0.45" stroke-width="1"/>
<circle cx="92.4" cy="2192.1" r="3.03" fill="#0000ff" fill-opacity="0.6" stroke="#0000ff" stroke-opacity="0.45" stroke-width="1"/>
<circle cx="265.6" cy="2192.1" r="1.73" fill="#0000ff" fill-opacity="0.6" stroke="#0000ff" stroke-opacity="0.45" stroke-width="1"/>
<circle cx="66.1" cy="2195.3" r="3.89" fill="#0000ff" fill-opacity="0.6" stroke="#0000ff" stroke-opacity="0.45" stroke-width="1"/>
<circle cx="291.9" cy="2195.3" r="1.73" fill="#0000ff" fill-opacity="0.6" stroke="#0000ff" stroke-opacity="0.45" stroke-width="1"/>
<circle cx="105.8" cy="2222.3" r="3.89" fill="#0000ff" fill-opacity="0.6" stroke="#0000ff" stroke-opacity="0.45" stroke-width="1"/>
<circle cx="203.1" cy="2218.4" r="1.73" fill="#0000ff" fill-opacity="0.6" stroke="#0000ff" stroke-opacity="0.45" stroke-width="1"/>
<circle cx="227.7" cy="2218.4" r="1.95" fill="#0000ff" fill-opacity="0.6" stroke="#0000ff" stroke-opacity="0.45" stroke-width="1"/>
<circle cx="83.1" cy="2228.6" r="2.59" fill="#0000ff" fill-opacity="0.6" stroke="#0000ff" stroke-opacity="0.45" stroke-width="1"/>
<circle cx="59.0" cy="2246.0" r="1.95" fill="#0000ff" fill-opacity="0.6" stroke="#0000ff" stroke-opacity="0.45" stroke-width="1"/>
<circle cx="219.3" cy="2245.4" r="1.95" fill="#0000ff" fill-opacity="0.6" stroke="#0000ff" stroke-opacity="0.45" stroke-width="1"/>
<circle cx="109.7" cy="2254.7" r="2.59" fill="#0000ff" fill-opacity="0.6" stroke="#0000ff" stroke-opacity="0.45" stroke-width="1"/>
<circle cx="142.0" cy="2271.9" r="2.16" fill="#0000ff" fill-opacity="0.6" stroke="#0000ff" stroke-opacity="0.45" stroke-width="1"/>
<circle cx="178.7" cy="2306.9" r="1.95" fill="#0000ff" fill-opacity="0.6" stroke="#0000ff" stroke-opacity="0.45" stroke-width="1"/>
<circle cx="83.1" cy="2089.0" r="1.08" fill="#ff0000" fill-opacity="0.6" stroke="#ff0000" stroke-opacity="0.45" stroke-width="1"/>
<circle cx="208.3" cy="2159.1" r="1.08" fill="#ff0000" fill-opacity="0.6" stroke="#ff0000" stroke-opacity="0.45" stroke-width="1"/>
<path d="M460.7,439.2 L465.6,434.4 L470.6,429.8 L475.6,425.5 L480.5,421.4 L485.4,417.4 L490.4,413.6 L495.4,409.8 L500.3,406.2 L505.2,402.8 L510.2,399.3 L515.1,396.0 L520.1,392.8 L525.0,389.6 L530.0,386.5 L535.0,383.4 L539.9,380.4 L544.9,377.4 L549.8,374.5 L554.8,371.7 L559.7,368.9 L564.6,366.1 L569.6,363.3 L574.5,360.6 L579.5,358.0 L584.5,355.3 L589.4,352.7 L594.4,350.2 L599.3,347.6 L604.2,345.1 L609.2,342.6 L614.1,340.1 L619.1,337.7 L624.0,335.3 L629.0,332.9 L634.0,330.5 L638.9,328.1 L643.9,325.8 L648.8,323.5 L653.8,321.2 L658.7,318.9 L663.6,316.7 L668.6,314.4 L673.5,312.2 L678.5,310.0 L683.5,307.8 L688.4,305.6 L693.4,303.5 L698.3,301.3 L703.2,299.2 L708.2,297.1 L713.2,295.0 L718.1,292.9 L723.0,290.8 L728.0,288.8 L733.0,286.7 L737.9,284.7 L742.9,282.6 L747.8,280.6 L752.8,278.6 L757.7,276.6 L762.7,274.6 L767.6,272.7 L772.5,270.7 L777.5,268.8 L782.5,266.8 L787.4,264.9 L792.4,263.0 L797.3,261.1 L802.2,259.1 L807.2,257.3 L812.2,255.4 L817.1,253.5 L822.0,251.6 L827.0,249.8 L827.0,288.7 L822.0,290.2 L817.1,291.8 L812.2,293.3 L807.2,294.8 L802.2,296.4 L797.3,297.9 L792.4,299.5 L787.4,301.1 L782.5,302.6 L777.5,304.2 L772.5,305.8 L767.6,307.4 L762.7,309.0 L757.7,310.6 L752.8,312.2 L747.8,313.8 L742.9,315.4 L737.9,317.0 L733.0,318.6 L728.0,320.3 L723.0,321.9 L718.1,323.6 L713.2,325.2 L708.2,326.9 L703.2,328.6 L698.3,330.3 L693.4,332.0 L688.4,333.7 L683.5,335.4 L678.5,337.1 L673.5,338.9 L668.6,340.6 L663.6,342.4 L658.7,344.2 L653.8,346.0 L648.8,347.8 L643.9,349.6 L638.9,351.5 L634.0,353.3 L629.0,355.2 L624.0,357.1 L619.1,359.0 L614.1,360.9 L609.2,362.9 L604.2,364.8 L599.3,366.8 L594.4,368.8 L589.4,370.9 L584.5,373.0 L579.5,375.0 L574.5,377.2 L569.6,379.3 L564.6,381.5 L559.7,383.8 L554.8,386.0 L549.8,388.3 L544.9,390.7 L539.9,393.1 L535.0,395.5 L530.0,398.0 L525.0,400.6 L520.1,403.2 L515.1,405.9 L510.2,408.7 L505.2,411.6 L500.3,414.5 L495.4,417.6 L490.4,420.8 L485.4,424.1 L480.5,427.6 L475.6,431.3 L470.6,435.2 L465.6,439.3 L460.7,443.8 Z" fill="#0000ff" fill-opacity="0.115" stroke="none"/>
<path d="M460.7,436.3 L465.6,430.7 L470.6,425.5 L475.6,420.4 L480.5,415.6 L485.4,411.0 L490.4,406.5 L495.4,402.1 L500.3,397.9 L505.2,393.7 L510.2,389.6 L515.1,385.7 L520.1,381.8 L525.0,378.0 L530.0,374.2 L535.0,370.5 L539.9,366.9 L544.9,363.3 L549.8,359.7 L554.8,356.2 L559.7,352.8 L564.6,349.4 L569.6,346.0 L574.5,342.7 L579.5,339.4 L584.5,336.1 L589.4,332.9 L594.4,329.7 L599.3,326.5 L604.2,323.3 L609.2,320.2 L614.1,317.1 L619.1,314.1 L624.0,311.0 L629.0,308.0 L634.0,305.0 L638.9,302.0 L643.9,299.0 L648.8,296.1 L653.8,293.2 L658.7,290.3 L663.6,287.4 L668.6,284.5 L673.5,281.7 L678.5,278.8 L683.5,276.0 L688.4,273.2 L693.4,270.4 L698.3,267.6 L703.2,264.9 L708.2,262.1 L713.2,259.4 L718.1,256.7 L723.0,254.0 L728.0,251.3 L733.0,248.6 L737.9,245.9 L742.9,243.2 L747.8,240.6 L752.8,238.0 L757.7,235.3 L762.7,232.7 L767.6,230.1 L772.5,227.5 L777.5,224.9 L782.5,222.3 L787.4,219.8 L792.4,217.2 L797.3,214.7 L802.2,212.1 L807.2,209.6 L812.2,207.0 L817.1,204.5 L822.0,202.0 L827.0,199.5 L827.0,240.8 L822.0,242.8 L817.1,244.8 L812.2,246.8 L807.2,248.9 L802.2,250.9 L797.3,252.9 L792.4,255.0 L787.4,257.0 L782.5,259.1 L777.5,261.2 L772.5,263.2 L767.6,265.3 L762.7,267.4 L757.7,269.5 L752.8,271.6 L747.8,273.7 L742.9,275.8 L737.9,278.0 L733.0,280.1 L728.0,282.3 L723.0,284.4 L718.1,286.6 L713.2,288.8 L708.2,290.9 L703.2,293.1 L698.3,295.4 L693.4,297.6 L688.4,299.8 L683.5,302.1 L678.5,304.3 L673.5,306.6 L668.6,308.9 L663.6,311.2 L658.7,313.5 L653.8,315.8 L648.8,318.2 L643.9,320.6 L638.9,322.9 L634.0,325.3 L629.0,327.8 L624.0,330.2 L619.1,332.7 L614.1,335.2 L609.2,337.7 L604.2,340.2 L599.3,342.8 L594.4,345.4 L589.4,348.0 L584.5,350.7 L579.5,353.4 L574.5,356.1 L569.6,358.9 L564.6,361.7 L559.7,364.5 L554.8,367.4 L549.8,370.3 L544.9,373.3 L539.9,376.4 L535.0,379.5 L530.0,382.6 L525.0,385.9 L520.1,389.2 L515.1,392.6 L510.2,396.0 L505.2,399.6 L500.3,403.3 L495.4,407.1 L490.4,411.1 L485.4,415.2 L480.5,419.5 L475.6,424.0 L470.6,428.7 L465.6,433.8 L460.7,439.2 Z" fill="#ff0000" fill-opacity="0.115" stroke="none"/>
<path d="M460.7,437.7 L465.6,432.4 L470.6,427.3 L475.6,422.5 L480.5,417.9 L485.4,413.5 L490.4,409.3 L495.4,405.2 L500.3,401.2 L505.2,397.3 L510.2,393.5 L515.1,389.8 L520.1,386.2 L525.0,382.7 L530.0,379.2 L535.0,375.8 L539.9,372.4 L544.9,369.1 L549.8,365.9 L554.8,362.7 L559.7,359.5 L564.6,356.4 L569.6,353.3 L574.5,350.3 L579.5,347.3 L584.5,344.3 L589.4,341.3 L594.4,338.4 L599.3,335.5 L604.2,332.6 L609.2,329.8 L614.1,327.0 L619.1,324.2 L624.0,321.4 L629.0,318.7 L634.0,315.9 L638.9,313.2 L643.9,310.5 L648.8,307.8 L653.8,305.2 L658.7,302.5 L663.6,299.9 L668.6,297.3 L673.5,294.7 L678.5,292.1 L683.5,289.6 L688.4,287.0 L693.4,284.5 L698.3,281.9 L703.2,279.4 L708.2,276.9 L713.2,274.4 L718.1,272.0 L723.0,269.5 L728.0,267.0 L733.0,264.6 L737.9,262.1 L742.9,259.7 L747.8,257.3 L752.8,254.9 L757.7,252.5 L762.7,250.1 L767.6,247.7 L772.5,245.3 L777.5,243.0 L782.5,240.6 L787.4,238.2 L792.4,235.9 L797.3,233.6 L802.2,231.2 L807.2,228.9 L812.2,226.6 L817.1,224.3 L822.0,222.0 L827.0,219.7" fill="none" stroke="#ee0000" stroke-width="2.6" stroke-linejoin="round"/>
<path d="M460.7,441.4 L465.6,436.7 L470.6,432.4 L475.6,428.3 L480.5,424.4 L485.4,420.7 L490.4,417.2 L495.4,413.7 L500.3,410.4 L505.2,407.2 L510.2,404.1 L515.1,401.1 L520.1,398.2 L525.0,395.3 L530.0,392.5 L535.0,389.7 L539.9,387.0 L544.9,384.4 L549.8,381.8 L554.8,379.2 L559.7,376.7 L564.6,374.3 L569.6,371.8 L574.5,369.4 L579.5,367.0 L584.5,364.7 L589.4,362.4 L594.4,360.1 L599.3,357.8 L604.2,355.6 L609.2,353.4 L614.1,351.2 L619.1,349.0 L624.0,346.9 L629.0,344.7 L634.0,342.6 L638.9,340.5 L643.9,338.4 L648.8,336.4 L653.8,334.3 L658.7,332.3 L663.6,330.3 L668.6,328.2 L673.5,326.3 L678.5,324.3 L683.5,322.3 L688.4,320.3 L693.4,318.4 L698.3,316.5 L703.2,314.5 L708.2,312.6 L713.2,310.7 L718.1,308.8 L723.0,306.9 L728.0,305.1 L733.0,303.2 L737.9,301.3 L742.9,299.5 L747.8,297.6 L752.8,295.8 L757.7,294.0 L762.7,292.1 L767.6,290.3 L772.5,288.5 L777.5,286.7 L782.5,284.9 L787.4,283.1 L792.4,281.3 L797.3,279.6 L802.2,277.8 L807.2,276.0 L812.2,274.3 L817.1,272.5 L822.0,270.7 L827.0,269.0" fill="none" stroke="#0000ff" stroke-width="2.6" stroke-linejoin="round"/>
<path d="M431.0,179.1 L431.0,467.4 L827.0,467.4" fill="none" stroke="#262626" stroke-width="2.4" stroke-linecap="square"/>
<path d="M431.0,467.4 h6 M431.0,371.2 h6 M431.0,275.3 h6 M431.0,179.1 h6 M530.0,467.4 v-6 M629.0,467.4 v-6 M728.0,467.4 v-6 M827.0,467.4 v-6" stroke="#262626" stroke-width="2.4" fill="none"/>
<text x="421.5" y="477.9" font-size="24.5" text-anchor="end" font-weight="normal" fill="#262626" stroke="#262626" stroke-width="0.35" style="">0</text>
<text x="421.5" y="381.7" font-size="24.5" text-anchor="end" font-weight="normal" fill="#262626" stroke="#262626" stroke-width="0.35" style="">5</text>
<text x="421.5" y="285.8" font-size="24.5" text-anchor="end" font-weight="normal" fill="#262626" stroke="#262626" stroke-width="0.35" style="">10</text>
<text x="421.5" y="189.6" font-size="24.5" text-anchor="end" font-weight="normal" fill="#262626" stroke="#262626" stroke-width="0.35" style="">15</text>
<path d="M457.7,192.7 h6.0 M460.7,189.7 v6.0 M458.8,190.8 l3.7,3.7 M458.8,194.6 l3.7,-3.7 M467.6,192.7 h6.0 M470.6,189.7 v6.0 M468.7,190.8 l3.7,3.7 M468.7,194.6 l3.7,-3.7 M477.5,192.7 h6.0 M480.5,189.7 v6.0 M478.6,190.8 l3.7,3.7 M478.6,194.6 l3.7,-3.7 M487.4,192.7 h6.0 M490.4,189.7 v6.0 M488.5,190.8 l3.7,3.7 M488.5,194.6 l3.7,-3.7 M497.3,192.7 h6.0 M500.3,189.7 v6.0 M498.4,190.8 l3.7,3.7 M498.4,194.6 l3.7,-3.7 M507.2,192.7 h6.0 M510.2,189.7 v6.0 M508.3,190.8 l3.7,3.7 M508.3,194.6 l3.7,-3.7 M517.1,192.7 h6.0 M520.1,189.7 v6.0 M518.2,190.8 l3.7,3.7 M518.2,194.6 l3.7,-3.7 M527.0,192.7 h6.0 M530.0,189.7 v6.0 M528.1,190.8 l3.7,3.7 M528.1,194.6 l3.7,-3.7 M536.9,192.7 h6.0 M539.9,189.7 v6.0 M538.0,190.8 l3.7,3.7 M538.0,194.6 l3.7,-3.7 M546.8,192.7 h6.0 M549.8,189.7 v6.0 M547.9,190.8 l3.7,3.7 M547.9,194.6 l3.7,-3.7 M556.7,192.7 h6.0 M559.7,189.7 v6.0 M557.8,190.8 l3.7,3.7 M557.8,194.6 l3.7,-3.7 M566.6,192.7 h6.0 M569.6,189.7 v6.0 M567.7,190.8 l3.7,3.7 M567.7,194.6 l3.7,-3.7 M576.5,192.7 h6.0 M579.5,189.7 v6.0 M577.6,190.8 l3.7,3.7 M577.6,194.6 l3.7,-3.7 M586.4,192.7 h6.0 M589.4,189.7 v6.0 M587.5,190.8 l3.7,3.7 M587.5,194.6 l3.7,-3.7 M596.3,192.7 h6.0 M599.3,189.7 v6.0 M597.4,190.8 l3.7,3.7 M597.4,194.6 l3.7,-3.7 M606.2,192.7 h6.0 M609.2,189.7 v6.0 M607.3,190.8 l3.7,3.7 M607.3,194.6 l3.7,-3.7 M616.1,192.7 h6.0 M619.1,189.7 v6.0 M617.2,190.8 l3.7,3.7 M617.2,194.6 l3.7,-3.7 M626.0,192.7 h6.0 M629.0,189.7 v6.0 M627.1,190.8 l3.7,3.7 M627.1,194.6 l3.7,-3.7 M635.9,192.7 h6.0 M638.9,189.7 v6.0 M637.0,190.8 l3.7,3.7 M637.0,194.6 l3.7,-3.7 M645.8,192.7 h6.0 M648.8,189.7 v6.0 M646.9,190.8 l3.7,3.7 M646.9,194.6 l3.7,-3.7 M655.7,192.7 h6.0 M658.7,189.7 v6.0 M656.8,190.8 l3.7,3.7 M656.8,194.6 l3.7,-3.7 M665.6,192.7 h6.0 M668.6,189.7 v6.0 M666.7,190.8 l3.7,3.7 M666.7,194.6 l3.7,-3.7 M675.5,192.7 h6.0 M678.5,189.7 v6.0 M676.6,190.8 l3.7,3.7 M676.6,194.6 l3.7,-3.7 M685.4,192.7 h6.0 M688.4,189.7 v6.0 M686.5,190.8 l3.7,3.7 M686.5,194.6 l3.7,-3.7 M695.3,192.7 h6.0 M698.3,189.7 v6.0 M696.4,190.8 l3.7,3.7 M696.4,194.6 l3.7,-3.7 M705.2,192.7 h6.0 M708.2,189.7 v6.0 M706.3,190.8 l3.7,3.7 M706.3,194.6 l3.7,-3.7 M715.1,192.7 h6.0 M718.1,189.7 v6.0 M716.2,190.8 l3.7,3.7 M716.2,194.6 l3.7,-3.7 M725.0,192.7 h6.0 M728.0,189.7 v6.0 M726.1,190.8 l3.7,3.7 M726.1,194.6 l3.7,-3.7 M734.9,192.7 h6.0 M737.9,189.7 v6.0 M736.0,190.8 l3.7,3.7 M736.0,194.6 l3.7,-3.7 M744.8,192.7 h6.0 M747.8,189.7 v6.0 M745.9,190.8 l3.7,3.7 M745.9,194.6 l3.7,-3.7 M754.7,192.7 h6.0 M757.7,189.7 v6.0 M755.8,190.8 l3.7,3.7 M755.8,194.6 l3.7,-3.7 M764.6,192.7 h6.0 M767.6,189.7 v6.0 M765.7,190.8 l3.7,3.7 M765.7,194.6 l3.7,-3.7 M774.5,192.7 h6.0 M777.5,189.7 v6.0 M775.6,190.8 l3.7,3.7 M775.6,194.6 l3.7,-3.7 M784.4,192.7 h6.0 M787.4,189.7 v6.0 M785.5,190.8 l3.7,3.7 M785.5,194.6 l3.7,-3.7 M794.3,192.7 h6.0 M797.3,189.7 v6.0 M795.4,190.8 l3.7,3.7 M795.4,194.6 l3.7,-3.7 M804.2,192.7 h6.0 M807.2,189.7 v6.0 M805.3,190.8 l3.7,3.7 M805.3,194.6 l3.7,-3.7 M814.1,192.7 h6.0 M817.1,189.7 v6.0 M815.2,190.8 l3.7,3.7 M815.2,194.6 l3.7,-3.7 M824.0,192.7 h6.0 M827.0,189.7 v6.0 M825.1,190.8 l3.7,3.7 M825.1,194.6 l3.7,-3.7" stroke="#333" stroke-width="0.9" fill="none"/>
<g fill="#111"><circle cx="460.7" cy="192.7" r="1.2"/><circle cx="470.6" cy="192.7" r="1.2"/><circle cx="480.5" cy="192.7" r="1.2"/><circle cx="490.4" cy="192.7" r="1.2"/><circle cx="500.3" cy="192.7" r="1.2"/><circle cx="510.2" cy="192.7" r="1.2"/><circle cx="520.1" cy="192.7" r="1.2"/><circle cx="530.0" cy="192.7" r="1.2"/><circle cx="539.9" cy="192.7" r="1.2"/><circle cx="549.8" cy="192.7" r="1.2"/><circle cx="559.7" cy="192.7" r="1.2"/><circle cx="569.6" cy="192.7" r="1.2"/><circle cx="579.5" cy="192.7" r="1.2"/><circle cx="589.4" cy="192.7" r="1.2"/><circle cx="599.3" cy="192.7" r="1.2"/><circle cx="609.2" cy="192.7" r="1.2"/><circle cx="619.1" cy="192.7" r="1.2"/><circle cx="629.0" cy="192.7" r="1.2"/><circle cx="638.9" cy="192.7" r="1.2"/><circle cx="648.8" cy="192.7" r="1.2"/><circle cx="658.7" cy="192.7" r="1.2"/><circle cx="668.6" cy="192.7" r="1.2"/><circle cx="678.5" cy="192.7" r="1.2"/><circle cx="688.4" cy="192.7" r="1.2"/><circle cx="698.3" cy="192.7" r="1.2"/><circle cx="708.2" cy="192.7" r="1.2"/><circle cx="718.1" cy="192.7" r="1.2"/><circle cx="728.0" cy="192.7" r="1.2"/><circle cx="737.9" cy="192.7" r="1.2"/><circle cx="747.8" cy="192.7" r="1.2"/><circle cx="757.7" cy="192.7" r="1.2"/><circle cx="767.6" cy="192.7" r="1.2"/><circle cx="777.5" cy="192.7" r="1.2"/><circle cx="787.4" cy="192.7" r="1.2"/><circle cx="797.3" cy="192.7" r="1.2"/><circle cx="807.2" cy="192.7" r="1.2"/><circle cx="817.1" cy="192.7" r="1.2"/><circle cx="827.0" cy="192.7" r="1.2"/></g>
<path d="M1008.9,360.4 L1018.8,322.0 L1028.7,313.6 L1038.7,288.3 L1048.6,290.2 L1058.5,279.9 L1068.4,268.7 L1078.3,263.0 L1088.3,262.1 L1098.2,266.8 L1108.1,270.2 L1118.0,270.5 L1128.0,269.0 L1137.9,265.8 L1147.8,263.4 L1157.8,262.5 L1167.7,261.2 L1177.6,257.9 L1187.5,260.9 L1197.5,260.3 L1207.4,260.0 L1217.3,261.2 L1227.2,262.5 L1237.2,261.2 L1247.1,261.2 L1257.0,262.0 L1266.9,263.7 L1276.8,263.7 L1286.8,264.3 L1296.7,265.5 L1306.6,264.3 L1316.6,263.7 L1326.5,264.9 L1336.4,264.6 L1346.3,263.7 L1356.2,262.0 L1366.2,262.5 L1376.1,263.7 L1376.1,358.0 L1366.2,358.0 L1356.2,358.0 L1346.3,358.0 L1336.4,358.0 L1326.5,358.0 L1316.6,356.8 L1306.6,356.3 L1296.7,355.8 L1286.8,354.6 L1276.8,353.4 L1266.9,352.9 L1257.0,351.7 L1247.1,350.3 L1237.2,350.7 L1227.2,352.9 L1217.3,353.8 L1207.4,354.6 L1197.5,355.8 L1187.5,355.2 L1177.6,353.7 L1167.7,356.8 L1157.8,357.2 L1147.8,359.0 L1137.9,359.5 L1128.0,360.1 L1118.0,359.0 L1108.1,358.6 L1098.2,357.6 L1088.3,359.5 L1078.3,361.4 L1068.4,364.2 L1058.5,369.8 L1048.6,375.4 L1038.7,379.2 L1028.7,397.9 L1018.8,410.1 L1008.9,420.4 Z" fill="#0000ff" fill-opacity="0.115" stroke="none"/>
<path d="M1008.9,412.0 L1018.8,404.5 L1028.7,405.0 L1038.7,387.6 L1048.6,382.9 L1058.5,382.0 L1068.4,382.9 L1078.3,378.2 L1088.3,378.2 L1098.2,375.4 L1108.1,369.8 L1118.0,367.9 L1128.0,366.1 L1137.9,365.1 L1147.8,366.1 L1157.8,365.9 L1167.7,364.6 L1177.6,364.1 L1187.5,363.7 L1197.5,363.2 L1207.4,363.2 L1217.3,363.7 L1227.2,364.9 L1237.2,365.8 L1247.1,364.9 L1257.0,364.0 L1266.9,363.2 L1276.8,363.2 L1286.8,363.7 L1296.7,364.4 L1306.6,364.9 L1316.6,364.9 L1326.5,362.7 L1336.4,362.0 L1346.3,363.2 L1356.2,364.0 L1366.2,363.7 L1376.1,364.0 L1376.1,430.9 L1366.2,430.6 L1356.2,430.9 L1346.3,430.1 L1336.4,429.2 L1326.5,429.5 L1316.6,430.1 L1306.6,429.5 L1296.7,429.2 L1286.8,429.2 L1276.8,428.9 L1266.9,428.3 L1257.0,428.3 L1247.1,428.3 L1237.2,429.2 L1227.2,428.3 L1217.3,428.9 L1207.4,428.9 L1197.5,428.3 L1187.5,427.7 L1177.6,426.8 L1167.7,426.3 L1157.8,426.3 L1147.8,426.0 L1137.9,426.0 L1128.0,426.0 L1118.0,426.0 L1108.1,426.0 L1098.2,429.8 L1088.3,430.7 L1078.3,430.7 L1068.4,431.6 L1058.5,431.6 L1048.6,432.6 L1038.7,434.4 L1028.7,445.7 L1018.8,444.8 L1008.9,449.4 Z" fill="#ff0000" fill-opacity="0.115" stroke="none"/>
<path d="M1008.9,430.7 L1018.8,424.1 L1028.7,425.6 L1038.7,411.0 L1048.6,407.3 L1058.5,405.8 L1068.4,407.3 L1078.3,404.5 L1088.3,404.1 L1098.2,402.6 L1108.1,398.3 L1118.0,397.0 L1128.0,396.0 L1137.9,395.1 L1147.8,395.7 L1157.8,396.5 L1167.7,396.3 L1177.6,396.0 L1187.5,396.0 L1197.5,396.1 L1207.4,396.6 L1217.3,396.6 L1227.2,397.5 L1237.2,398.0 L1247.1,396.6 L1257.0,397.5 L1266.9,396.3 L1276.8,395.4 L1286.8,396.3 L1296.7,396.3 L1306.6,397.5 L1316.6,398.0 L1326.5,396.3 L1336.4,394.9 L1346.3,396.3 L1356.2,397.5 L1366.2,397.1 L1376.1,397.5" fill="none" stroke="#ee0000" stroke-width="2.6" stroke-linejoin="round"/>
<path d="M1008.9,391.4 L1018.8,364.2 L1028.7,351.1 L1038.7,333.3 L1048.6,333.3 L1058.5,323.9 L1068.4,315.5 L1078.3,311.4 L1088.3,309.5 L1098.2,312.7 L1108.1,315.1 L1118.0,315.5 L1128.0,314.6 L1137.9,313.6 L1147.8,310.8 L1157.8,309.7 L1167.7,309.1 L1177.6,305.3 L1187.5,307.1 L1197.5,309.5 L1207.4,307.5 L1217.3,306.9 L1227.2,307.8 L1237.2,306.1 L1247.1,305.7 L1257.0,306.1 L1266.9,308.3 L1276.8,308.3 L1286.8,309.2 L1296.7,310.9 L1306.6,310.4 L1316.6,310.5 L1326.5,311.7 L1336.4,311.2 L1346.3,310.9 L1356.2,309.7 L1366.2,310.0 L1376.1,310.9" fill="none" stroke="#0000ff" stroke-width="2.6" stroke-linejoin="round"/>
<path d="M979.1,177.8 L979.1,467.2 L1376.1,467.2" fill="none" stroke="#262626" stroke-width="2.4" stroke-linecap="square"/>
<path d="M979.1,467.2 h6 M979.1,409.2 h6 M979.1,351.5 h6 M979.1,294.0 h6 M979.1,235.9 h6 M979.1,177.8 h6 M1078.3,467.2 v-6 M1177.6,467.2 v-6 M1276.8,467.2 v-6 M1376.1,467.2 v-6" stroke="#262626" stroke-width="2.4" fill="none"/>
<text x="969.6" y="477.7" font-size="24.5" text-anchor="end" font-weight="normal" fill="#262626" stroke="#262626" stroke-width="0.35" style="">2.5</text>
<text x="969.6" y="419.7" font-size="24.5" text-anchor="end" font-weight="normal" fill="#262626" stroke="#262626" stroke-width="0.35" style="">3</text>
<text x="969.6" y="362.0" font-size="24.5" text-anchor="end" font-weight="normal" fill="#262626" stroke="#262626" stroke-width="0.35" style="">3.5</text>
<text x="969.6" y="304.5" font-size="24.5" text-anchor="end" font-weight="normal" fill="#262626" stroke="#262626" stroke-width="0.35" style="">4</text>
<text x="969.6" y="246.4" font-size="24.5" text-anchor="end" font-weight="normal" fill="#262626" stroke="#262626" stroke-width="0.35" style="">4.5</text>
<text x="969.6" y="188.3" font-size="24.5" text-anchor="end" font-weight="normal" fill="#262626" stroke="#262626" stroke-width="0.35" style="">5</text>
<path d="M1015.8,222.5 h6.0 M1018.8,219.5 v6.0 M1016.9,220.6 l3.7,3.7 M1016.9,224.4 l3.7,-3.7 M1025.7,222.5 h6.0 M1028.7,219.5 v6.0 M1026.9,220.6 l3.7,3.7 M1026.9,224.4 l3.7,-3.7 M1035.7,222.5 h6.0 M1038.7,219.5 v6.0 M1036.8,220.6 l3.7,3.7 M1036.8,224.4 l3.7,-3.7 M1045.6,222.5 h6.0 M1048.6,219.5 v6.0 M1046.7,220.6 l3.7,3.7 M1046.7,224.4 l3.7,-3.7 M1055.5,222.5 h6.0 M1058.5,219.5 v6.0 M1056.6,220.6 l3.7,3.7 M1056.6,224.4 l3.7,-3.7 M1065.4,222.5 h6.0 M1068.4,219.5 v6.0 M1066.6,220.6 l3.7,3.7 M1066.6,224.4 l3.7,-3.7 M1075.3,222.5 h6.0 M1078.3,219.5 v6.0 M1076.5,220.6 l3.7,3.7 M1076.5,224.4 l3.7,-3.7 M1085.3,222.5 h6.0 M1088.3,219.5 v6.0 M1086.4,220.6 l3.7,3.7 M1086.4,224.4 l3.7,-3.7 M1095.2,222.5 h6.0 M1098.2,219.5 v6.0 M1096.3,220.6 l3.7,3.7 M1096.3,224.4 l3.7,-3.7 M1105.1,222.5 h6.0 M1108.1,219.5 v6.0 M1106.3,220.6 l3.7,3.7 M1106.3,224.4 l3.7,-3.7 M1115.0,222.5 h6.0 M1118.0,219.5 v6.0 M1116.2,220.6 l3.7,3.7 M1116.2,224.4 l3.7,-3.7 M1125.0,222.5 h6.0 M1128.0,219.5 v6.0 M1126.1,220.6 l3.7,3.7 M1126.1,224.4 l3.7,-3.7 M1134.9,222.5 h6.0 M1137.9,219.5 v6.0 M1136.0,220.6 l3.7,3.7 M1136.0,224.4 l3.7,-3.7 M1144.8,222.5 h6.0 M1147.8,219.5 v6.0 M1146.0,220.6 l3.7,3.7 M1146.0,224.4 l3.7,-3.7 M1154.8,222.5 h6.0 M1157.8,219.5 v6.0 M1155.9,220.6 l3.7,3.7 M1155.9,224.4 l3.7,-3.7 M1164.7,222.5 h6.0 M1167.7,219.5 v6.0 M1165.8,220.6 l3.7,3.7 M1165.8,224.4 l3.7,-3.7 M1174.6,222.5 h6.0 M1177.6,219.5 v6.0 M1175.7,220.6 l3.7,3.7 M1175.7,224.4 l3.7,-3.7 M1184.5,222.5 h6.0 M1187.5,219.5 v6.0 M1185.7,220.6 l3.7,3.7 M1185.7,224.4 l3.7,-3.7 M1194.5,222.5 h6.0 M1197.5,219.5 v6.0 M1195.6,220.6 l3.7,3.7 M1195.6,224.4 l3.7,-3.7 M1204.4,222.5 h6.0 M1207.4,219.5 v6.0 M1205.5,220.6 l3.7,3.7 M1205.5,224.4 l3.7,-3.7 M1214.3,222.5 h6.0 M1217.3,219.5 v6.0 M1215.4,220.6 l3.7,3.7 M1215.4,224.4 l3.7,-3.7 M1224.2,222.5 h6.0 M1227.2,219.5 v6.0 M1225.4,220.6 l3.7,3.7 M1225.4,224.4 l3.7,-3.7 M1234.2,222.5 h6.0 M1237.2,219.5 v6.0 M1235.3,220.6 l3.7,3.7 M1235.3,224.4 l3.7,-3.7 M1244.1,222.5 h6.0 M1247.1,219.5 v6.0 M1245.2,220.6 l3.7,3.7 M1245.2,224.4 l3.7,-3.7 M1254.0,222.5 h6.0 M1257.0,219.5 v6.0 M1255.1,220.6 l3.7,3.7 M1255.1,224.4 l3.7,-3.7 M1263.9,222.5 h6.0 M1266.9,219.5 v6.0 M1265.1,220.6 l3.7,3.7 M1265.1,224.4 l3.7,-3.7 M1273.8,222.5 h6.0 M1276.8,219.5 v6.0 M1275.0,220.6 l3.7,3.7 M1275.0,224.4 l3.7,-3.7 M1283.8,222.5 h6.0 M1286.8,219.5 v6.0 M1284.9,220.6 l3.7,3.7 M1284.9,224.4 l3.7,-3.7 M1293.7,222.5 h6.0 M1296.7,219.5 v6.0 M1294.8,220.6 l3.7,3.7 M1294.8,224.4 l3.7,-3.7 M1303.6,222.5 h6.0 M1306.6,219.5 v6.0 M1304.8,220.6 l3.7,3.7 M1304.8,224.4 l3.7,-3.7 M1313.6,222.5 h6.0 M1316.6,219.5 v6.0 M1314.7,220.6 l3.7,3.7 M1314.7,224.4 l3.7,-3.7 M1323.5,222.5 h6.0 M1326.5,219.5 v6.0 M1324.6,220.6 l3.7,3.7 M1324.6,224.4 l3.7,-3.7 M1333.4,222.5 h6.0 M1336.4,219.5 v6.0 M1334.5,220.6 l3.7,3.7 M1334.5,224.4 l3.7,-3.7 M1343.3,222.5 h6.0 M1346.3,219.5 v6.0 M1344.5,220.6 l3.7,3.7 M1344.5,224.4 l3.7,-3.7 M1353.2,222.5 h6.0 M1356.2,219.5 v6.0 M1354.4,220.6 l3.7,3.7 M1354.4,224.4 l3.7,-3.7 M1363.2,222.5 h6.0 M1366.2,219.5 v6.0 M1364.3,220.6 l3.7,3.7 M1364.3,224.4 l3.7,-3.7 M1373.1,222.5 h6.0 M1376.1,219.5 v6.0 M1374.2,220.6 l3.7,3.7 M1374.2,224.4 l3.7,-3.7" stroke="#333" stroke-width="0.9" fill="none"/>
<g fill="#111"><circle cx="1018.8" cy="222.5" r="1.2"/><circle cx="1028.7" cy="222.5" r="1.2"/><circle cx="1038.7" cy="222.5" r="1.2"/><circle cx="1048.6" cy="222.5" r="1.2"/><circle cx="1058.5" cy="222.5" r="1.2"/><circle cx="1068.4" cy="222.5" r="1.2"/><circle cx="1078.3" cy="222.5" r="1.2"/><circle cx="1088.3" cy="222.5" r="1.2"/><circle cx="1098.2" cy="222.5" r="1.2"/><circle cx="1108.1" cy="222.5" r="1.2"/><circle cx="1118.0" cy="222.5" r="1.2"/><circle cx="1128.0" cy="222.5" r="1.2"/><circle cx="1137.9" cy="222.5" r="1.2"/><circle cx="1147.8" cy="222.5" r="1.2"/><circle cx="1157.8" cy="222.5" r="1.2"/><circle cx="1167.7" cy="222.5" r="1.2"/><circle cx="1177.6" cy="222.5" r="1.2"/><circle cx="1187.5" cy="222.5" r="1.2"/><circle cx="1197.5" cy="222.5" r="1.2"/><circle cx="1207.4" cy="222.5" r="1.2"/><circle cx="1217.3" cy="222.5" r="1.2"/><circle cx="1227.2" cy="222.5" r="1.2"/><circle cx="1237.2" cy="222.5" r="1.2"/><circle cx="1247.1" cy="222.5" r="1.2"/><circle cx="1257.0" cy="222.5" r="1.2"/><circle cx="1266.9" cy="222.5" r="1.2"/><circle cx="1276.8" cy="222.5" r="1.2"/><circle cx="1286.8" cy="222.5" r="1.2"/><circle cx="1296.7" cy="222.5" r="1.2"/><circle cx="1306.6" cy="222.5" r="1.2"/><circle cx="1316.6" cy="222.5" r="1.2"/><circle cx="1326.5" cy="222.5" r="1.2"/><circle cx="1336.4" cy="222.5" r="1.2"/><circle cx="1346.3" cy="222.5" r="1.2"/><circle cx="1356.2" cy="222.5" r="1.2"/><circle cx="1366.2" cy="222.5" r="1.2"/><circle cx="1376.1" cy="222.5" r="1.2"/></g>
<path d="M459.4,745.1 L469.3,725.7 L479.2,714.0 L489.1,702.3 L499.0,691.4 L508.9,682.9 L518.8,675.1 L528.7,669.3 L538.6,659.5 L548.5,649.8 L558.4,644.7 L568.3,642.0 L578.2,637.0 L588.1,632.3 L598.0,628.4 L607.9,625.3 L617.8,621.4 L627.7,619.1 L637.6,616.7 L647.5,612.8 L657.4,608.2 L667.3,607.0 L677.2,605.1 L687.1,601.9 L697.0,599.6 L706.9,597.3 L716.8,594.9 L726.7,593.4 L736.6,591.4 L746.5,590.3 L756.4,589.5 L766.3,588.7 L776.2,587.9 L786.1,587.2 L796.0,586.4 L805.9,586.0 L815.8,585.6 L825.7,585.6 L825.7,621.4 L815.8,618.7 L805.9,619.8 L796.0,620.6 L786.1,620.6 L776.2,621.4 L766.3,622.6 L756.4,622.6 L746.5,623.7 L736.6,625.3 L726.7,626.8 L716.8,627.6 L706.9,629.6 L697.0,632.3 L687.1,633.5 L677.2,635.4 L667.3,636.2 L657.4,637.4 L647.5,642.0 L637.6,644.7 L627.7,647.9 L617.8,648.6 L607.9,649.8 L598.0,651.8 L588.1,653.7 L578.2,657.6 L568.3,661.5 L558.4,665.4 L548.5,671.2 L538.6,682.9 L528.7,691.4 L518.8,698.4 L508.9,707.0 L499.0,716.0 L489.1,729.6 L479.2,737.4 L469.3,751.0 L459.4,768.5 Z" fill="#0000ff" fill-opacity="0.115" stroke="none"/>
<path d="M459.4,749.0 L469.3,733.5 L479.2,717.9 L489.1,704.3 L499.0,692.6 L508.9,682.9 L518.8,671.2 L528.7,663.4 L538.6,657.6 L548.5,647.1 L558.4,642.0 L568.3,638.1 L578.2,633.1 L588.1,623.7 L598.0,618.7 L607.9,613.6 L617.8,610.9 L627.7,605.8 L637.6,604.3 L647.5,599.2 L657.4,595.3 L667.3,593.4 L677.2,591.4 L687.1,589.5 L697.0,587.5 L706.9,584.8 L716.8,581.7 L726.7,577.0 L736.6,573.9 L746.5,572.0 L756.4,570.0 L766.3,566.9 L776.2,564.2 L786.1,561.5 L796.0,559.1 L805.9,556.4 L815.8,555.3 L825.7,552.5 L825.7,587.5 L815.8,589.5 L805.9,590.3 L796.0,592.6 L786.1,594.2 L776.2,597.3 L766.3,599.2 L756.4,601.9 L746.5,604.3 L736.6,605.8 L726.7,607.0 L716.8,610.9 L706.9,613.6 L697.0,616.0 L687.1,617.5 L677.2,619.8 L667.3,621.4 L657.4,624.5 L647.5,628.4 L637.6,632.3 L627.7,634.2 L617.8,639.3 L607.9,642.0 L598.0,645.9 L588.1,651.8 L578.2,659.5 L568.3,663.4 L558.4,666.5 L548.5,671.2 L538.6,680.9 L528.7,688.7 L518.8,696.5 L508.9,706.2 L499.0,716.0 L489.1,727.6 L479.2,739.3 L469.3,754.9 L459.4,772.4 Z" fill="#ff0000" fill-opacity="0.115" stroke="none"/>
<path d="M459.4,758.0 L469.3,743.2 L479.2,727.6 L489.1,715.2 L499.0,703.5 L508.9,694.6 L518.8,683.7 L528.7,675.1 L538.6,669.3 L548.5,658.8 L558.4,653.7 L568.3,650.6 L578.2,645.9 L588.1,637.0 L598.0,631.5 L607.9,627.2 L617.8,624.5 L627.7,619.1 L637.6,617.5 L647.5,612.8 L657.4,608.9 L667.3,606.2 L677.2,605.1 L687.1,603.1 L697.0,601.2 L706.9,598.4 L716.8,595.3 L726.7,591.4 L736.6,589.5 L746.5,587.5 L756.4,585.2 L766.3,582.5 L776.2,579.8 L786.1,577.0 L796.0,574.7 L805.9,572.4 L815.8,572.0 L825.7,570.0" fill="none" stroke="#ee0000" stroke-width="2.6" stroke-linejoin="round"/>
<path d="M459.4,754.9 L469.3,737.4 L479.2,724.9 L489.1,714.8 L499.0,702.3 L508.9,693.8 L518.8,686.0 L528.7,680.2 L538.6,671.2 L548.5,660.3 L558.4,654.5 L568.3,651.0 L578.2,647.1 L588.1,642.8 L598.0,640.1 L607.9,638.9 L617.8,637.7 L627.7,637.0 L637.6,633.1 L647.5,631.1 L657.4,625.7 L667.3,625.7 L677.2,624.5 L687.1,623.0 L697.0,621.4 L706.9,617.9 L716.8,615.6 L726.7,614.8 L736.6,612.8 L746.5,610.9 L756.4,609.3 L766.3,609.3 L776.2,607.8 L786.1,607.4 L796.0,606.6 L805.9,605.1 L815.8,604.3 L825.7,603.1" fill="none" stroke="#0000ff" stroke-width="2.6" stroke-linejoin="round"/>
<path d="M429.7,524.5 L429.7,813.2 L825.7,813.2" fill="none" stroke="#262626" stroke-width="2.4" stroke-linecap="square"/>
<path d="M429.7,813.2 h6 M429.7,717.9 h6 M429.7,621.4 h6 M429.7,524.5 h6 M528.7,813.2 v-6 M627.7,813.2 v-6 M726.7,813.2 v-6 M825.7,813.2 v-6" stroke="#262626" stroke-width="2.4" fill="none"/>
<text x="420.2" y="823.7" font-size="24.5" text-anchor="end" font-weight="normal" fill="#262626" stroke="#262626" stroke-width="0.35" style="">0</text>
<text x="420.2" y="728.4" font-size="24.5" text-anchor="end" font-weight="normal" fill="#262626" stroke="#262626" stroke-width="0.35" style="">0.1</text>
<text x="420.2" y="631.9" font-size="24.5" text-anchor="end" font-weight="normal" fill="#262626" stroke="#262626" stroke-width="0.35" style="">0.2</text>
<text x="420.2" y="535.0" font-size="24.5" text-anchor="end" font-weight="normal" fill="#262626" stroke="#262626" stroke-width="0.35" style="">0.3</text>
<path d="M723.7,542.0 h6.0 M726.7,539.0 v6.0 M724.8,540.1 l3.7,3.7 M724.8,543.9 l3.7,-3.7 M743.5,542.0 h6.0 M746.5,539.0 v6.0 M744.6,540.1 l3.7,3.7 M744.6,543.9 l3.7,-3.7 M763.3,542.0 h6.0 M766.3,539.0 v6.0 M764.4,540.1 l3.7,3.7 M764.4,543.9 l3.7,-3.7 M773.2,542.0 h6.0 M776.2,539.0 v6.0 M774.3,540.1 l3.7,3.7 M774.3,543.9 l3.7,-3.7 M783.1,542.0 h6.0 M786.1,539.0 v6.0 M784.2,540.1 l3.7,3.7 M784.2,543.9 l3.7,-3.7 M793.0,542.0 h6.0 M796.0,539.0 v6.0 M794.1,540.1 l3.7,3.7 M794.1,543.9 l3.7,-3.7 M802.9,542.0 h6.0 M805.9,539.0 v6.0 M804.0,540.1 l3.7,3.7 M804.0,543.9 l3.7,-3.7 M812.8,542.0 h6.0 M815.8,539.0 v6.0 M813.9,540.1 l3.7,3.7 M813.9,543.9 l3.7,-3.7 M822.7,542.0 h6.0 M825.7,539.0 v6.0 M823.8,540.1 l3.7,3.7 M823.8,543.9 l3.7,-3.7" stroke="#333" stroke-width="0.9" fill="none"/>
<g fill="#111"><circle cx="726.7" cy="542.0" r="1.2"/><circle cx="746.5" cy="542.0" r="1.2"/><circle cx="766.3" cy="542.0" r="1.2"/><circle cx="776.2" cy="542.0" r="1.2"/><circle cx="786.1" cy="542.0" r="1.2"/><circle cx="796.0" cy="542.0" r="1.2"/><circle cx="805.9" cy="542.0" r="1.2"/><circle cx="815.8" cy="542.0" r="1.2"/><circle cx="825.7" cy="542.0" r="1.2"/></g>
<path d="M1008.0,615.3 L1017.9,628.8 L1027.8,616.4 L1037.8,624.5 L1047.8,617.1 L1057.7,620.8 L1067.7,630.7 L1077.6,622.6 L1087.5,619.0 L1097.5,600.7 L1107.5,598.1 L1117.4,594.4 L1127.3,594.4 L1137.3,596.6 L1147.2,595.9 L1157.2,594.1 L1167.2,590.8 L1177.1,594.4 L1187.0,589.7 L1197.0,586.0 L1207.0,583.1 L1216.9,582.4 L1226.8,581.6 L1236.8,579.8 L1246.8,578.7 L1256.7,575.8 L1266.7,573.2 L1276.6,573.2 L1286.5,571.4 L1296.5,568.4 L1306.5,567.0 L1316.4,566.6 L1326.3,565.2 L1336.3,564.1 L1346.2,563.0 L1356.2,564.1 L1366.2,563.0 L1376.1,562.2 L1376.1,593.3 L1366.2,594.4 L1356.2,595.9 L1346.2,597.0 L1336.3,600.7 L1326.3,602.5 L1316.4,605.4 L1306.5,606.1 L1296.5,608.0 L1286.5,611.6 L1276.6,615.3 L1266.7,617.1 L1256.7,621.9 L1246.8,626.3 L1236.8,625.2 L1226.8,627.4 L1216.9,629.9 L1207.0,633.6 L1197.0,639.1 L1187.0,644.6 L1177.1,651.9 L1167.2,650.8 L1157.2,651.9 L1147.2,655.6 L1137.3,661.1 L1127.3,664.7 L1117.4,668.4 L1107.5,675.7 L1097.5,679.4 L1087.5,692.9 L1077.6,700.6 L1067.7,705.0 L1057.7,710.5 L1047.8,712.3 L1037.8,716.0 L1027.8,718.9 L1017.9,732.4 L1008.0,728.8 Z" fill="#0000ff" fill-opacity="0.115" stroke="none"/>
<path d="M1008.0,728.8 L1017.9,722.5 L1027.8,716.0 L1037.8,712.3 L1047.8,708.6 L1057.7,703.1 L1067.7,697.7 L1077.6,695.8 L1087.5,692.9 L1097.5,681.2 L1107.5,681.9 L1117.4,683.7 L1127.3,675.7 L1137.3,668.4 L1147.2,665.4 L1157.2,660.3 L1167.2,657.4 L1177.1,650.1 L1187.0,646.4 L1197.0,640.9 L1207.0,637.3 L1216.9,634.7 L1226.8,633.6 L1236.8,631.0 L1246.8,628.1 L1256.7,625.5 L1266.7,621.5 L1276.6,617.1 L1286.5,616.4 L1296.5,613.5 L1306.5,610.5 L1316.4,606.9 L1326.3,604.3 L1336.3,602.5 L1346.2,600.7 L1356.2,599.6 L1366.2,598.1 L1376.1,598.1 L1376.1,617.1 L1366.2,619.0 L1356.2,620.8 L1346.2,623.7 L1336.3,625.2 L1326.3,628.1 L1316.4,630.7 L1306.5,634.3 L1296.5,638.0 L1286.5,640.9 L1276.6,642.8 L1266.7,646.4 L1256.7,650.1 L1246.8,653.7 L1236.8,656.3 L1226.8,658.1 L1216.9,659.2 L1207.0,662.9 L1197.0,666.5 L1187.0,672.8 L1177.1,676.4 L1167.2,683.7 L1157.2,689.2 L1147.2,694.0 L1137.3,696.9 L1127.3,705.0 L1117.4,714.1 L1107.5,712.3 L1097.5,716.0 L1087.5,729.9 L1077.6,739.8 L1067.7,746.0 L1057.7,752.6 L1047.8,758.1 L1037.8,767.2 L1027.8,776.4 L1017.9,803.8 L1008.0,813.0 Z" fill="#ff0000" fill-opacity="0.115" stroke="none"/>
<path d="M1008.0,771.2 L1017.9,766.5 L1027.8,747.1 L1037.8,740.8 L1047.8,733.5 L1057.7,727.7 L1067.7,722.2 L1077.6,717.1 L1087.5,711.9 L1097.5,698.0 L1107.5,698.0 L1117.4,699.5 L1127.3,690.3 L1137.3,682.3 L1147.2,679.7 L1157.2,674.6 L1167.2,670.6 L1177.1,662.9 L1187.0,659.6 L1197.0,654.1 L1207.0,650.1 L1216.9,646.4 L1226.8,646.4 L1236.8,644.6 L1246.8,641.7 L1256.7,639.1 L1266.7,634.7 L1276.6,630.3 L1286.5,629.6 L1296.5,627.0 L1306.5,623.7 L1316.4,620.4 L1326.3,617.1 L1336.3,614.6 L1346.2,612.0 L1356.2,609.8 L1366.2,609.4 L1376.1,608.0" fill="none" stroke="#ee0000" stroke-width="2.6" stroke-linejoin="round"/>
<path d="M1008.0,688.5 L1017.9,681.9 L1027.8,669.1 L1037.8,676.4 L1047.8,667.3 L1057.7,666.5 L1067.7,667.3 L1077.6,663.6 L1087.5,654.8 L1097.5,639.1 L1107.5,636.9 L1117.4,630.7 L1127.3,628.5 L1137.3,628.1 L1147.2,625.5 L1157.2,623.0 L1167.2,619.3 L1177.1,623.7 L1187.0,617.1 L1197.0,612.4 L1207.0,607.2 L1216.9,605.8 L1226.8,605.1 L1236.8,602.5 L1246.8,603.2 L1256.7,598.1 L1266.7,594.4 L1276.6,594.4 L1286.5,592.2 L1296.5,588.6 L1306.5,586.4 L1316.4,585.7 L1326.3,582.7 L1336.3,581.6 L1346.2,579.4 L1356.2,579.8 L1366.2,578.7 L1376.1,578.0" fill="none" stroke="#0000ff" stroke-width="2.6" stroke-linejoin="round"/>
<path d="M978.1,524.9 L978.1,814.1 L1376.1,814.1" fill="none" stroke="#262626" stroke-width="2.4" stroke-linecap="square"/>
<path d="M978.1,803.1 h6 M978.1,710.5 h6 M978.1,617.9 h6 M978.1,524.9 h6 M1077.6,814.1 v-6 M1177.1,814.1 v-6 M1276.6,814.1 v-6 M1376.1,814.1 v-6" stroke="#262626" stroke-width="2.4" fill="none"/>
<text x="968.6" y="813.6" font-size="24.5" text-anchor="end" font-weight="normal" fill="#262626" stroke="#262626" stroke-width="0.35" style="">0.4</text>
<text x="968.6" y="721.0" font-size="24.5" text-anchor="end" font-weight="normal" fill="#262626" stroke="#262626" stroke-width="0.35" style="">0.6</text>
<text x="968.6" y="628.4" font-size="24.5" text-anchor="end" font-weight="normal" fill="#262626" stroke="#262626" stroke-width="0.35" style="">0.8</text>
<text x="968.6" y="535.4" font-size="24.5" text-anchor="end" font-weight="normal" fill="#262626" stroke="#262626" stroke-width="0.35" style="">1</text>
<path d="M1014.9,553.1 h6.0 M1017.9,550.1 v6.0 M1016.0,551.2 l3.7,3.7 M1016.0,555.0 l3.7,-3.7 M1024.8,553.1 h6.0 M1027.8,550.1 v6.0 M1026.0,551.2 l3.7,3.7 M1026.0,555.0 l3.7,-3.7 M1034.8,553.1 h6.0 M1037.8,550.1 v6.0 M1035.9,551.2 l3.7,3.7 M1035.9,555.0 l3.7,-3.7 M1044.8,553.1 h6.0 M1047.8,550.1 v6.0 M1045.9,551.2 l3.7,3.7 M1045.9,555.0 l3.7,-3.7 M1054.7,553.1 h6.0 M1057.7,550.1 v6.0 M1055.8,551.2 l3.7,3.7 M1055.8,555.0 l3.7,-3.7 M1064.7,553.1 h6.0 M1067.7,550.1 v6.0 M1065.8,551.2 l3.7,3.7 M1065.8,555.0 l3.7,-3.7 M1074.6,553.1 h6.0 M1077.6,550.1 v6.0 M1075.7,551.2 l3.7,3.7 M1075.7,555.0 l3.7,-3.7 M1084.5,553.1 h6.0 M1087.5,550.1 v6.0 M1085.7,551.2 l3.7,3.7 M1085.7,555.0 l3.7,-3.7 M1094.5,553.1 h6.0 M1097.5,550.1 v6.0 M1095.6,551.2 l3.7,3.7 M1095.6,555.0 l3.7,-3.7 M1104.5,553.1 h6.0 M1107.5,550.1 v6.0 M1105.6,551.2 l3.7,3.7 M1105.6,555.0 l3.7,-3.7 M1114.4,553.1 h6.0 M1117.4,550.1 v6.0 M1115.5,551.2 l3.7,3.7 M1115.5,555.0 l3.7,-3.7 M1124.3,553.1 h6.0 M1127.3,550.1 v6.0 M1125.5,551.2 l3.7,3.7 M1125.5,555.0 l3.7,-3.7 M1134.3,553.1 h6.0 M1137.3,550.1 v6.0 M1135.4,551.2 l3.7,3.7 M1135.4,555.0 l3.7,-3.7 M1144.2,553.1 h6.0 M1147.2,550.1 v6.0 M1145.4,551.2 l3.7,3.7 M1145.4,555.0 l3.7,-3.7 M1154.2,553.1 h6.0 M1157.2,550.1 v6.0 M1155.3,551.2 l3.7,3.7 M1155.3,555.0 l3.7,-3.7 M1164.2,553.1 h6.0 M1167.2,550.1 v6.0 M1165.3,551.2 l3.7,3.7 M1165.3,555.0 l3.7,-3.7 M1174.1,553.1 h6.0 M1177.1,550.1 v6.0 M1175.2,551.2 l3.7,3.7 M1175.2,555.0 l3.7,-3.7 M1184.0,553.1 h6.0 M1187.0,550.1 v6.0 M1185.2,551.2 l3.7,3.7 M1185.2,555.0 l3.7,-3.7 M1194.0,553.1 h6.0 M1197.0,550.1 v6.0 M1195.1,551.2 l3.7,3.7 M1195.1,555.0 l3.7,-3.7 M1204.0,553.1 h6.0 M1207.0,550.1 v6.0 M1205.1,551.2 l3.7,3.7 M1205.1,555.0 l3.7,-3.7 M1213.9,553.1 h6.0 M1216.9,550.1 v6.0 M1215.0,551.2 l3.7,3.7 M1215.0,555.0 l3.7,-3.7 M1223.8,553.1 h6.0 M1226.8,550.1 v6.0 M1225.0,551.2 l3.7,3.7 M1225.0,555.0 l3.7,-3.7 M1233.8,553.1 h6.0 M1236.8,550.1 v6.0 M1234.9,551.2 l3.7,3.7 M1234.9,555.0 l3.7,-3.7 M1243.8,553.1 h6.0 M1246.8,550.1 v6.0 M1244.9,551.2 l3.7,3.7 M1244.9,555.0 l3.7,-3.7 M1253.7,553.1 h6.0 M1256.7,550.1 v6.0 M1254.8,551.2 l3.7,3.7 M1254.8,555.0 l3.7,-3.7 M1263.7,553.1 h6.0 M1266.7,550.1 v6.0 M1264.8,551.2 l3.7,3.7 M1264.8,555.0 l3.7,-3.7 M1273.6,553.1 h6.0 M1276.6,550.1 v6.0 M1274.7,551.2 l3.7,3.7 M1274.7,555.0 l3.7,-3.7 M1283.5,553.1 h6.0 M1286.5,550.1 v6.0 M1284.7,551.2 l3.7,3.7 M1284.7,555.0 l3.7,-3.7 M1293.5,553.1 h6.0 M1296.5,550.1 v6.0 M1294.6,551.2 l3.7,3.7 M1294.6,555.0 l3.7,-3.7 M1303.5,553.1 h6.0 M1306.5,550.1 v6.0 M1304.6,551.2 l3.7,3.7 M1304.6,555.0 l3.7,-3.7 M1313.4,553.1 h6.0 M1316.4,550.1 v6.0 M1314.5,551.2 l3.7,3.7 M1314.5,555.0 l3.7,-3.7 M1323.3,553.1 h6.0 M1326.3,550.1 v6.0 M1324.5,551.2 l3.7,3.7 M1324.5,555.0 l3.7,-3.7 M1333.3,553.1 h6.0 M1336.3,550.1 v6.0 M1334.4,551.2 l3.7,3.7 M1334.4,555.0 l3.7,-3.7 M1343.2,553.1 h6.0 M1346.2,550.1 v6.0 M1344.4,551.2 l3.7,3.7 M1344.4,555.0 l3.7,-3.7 M1353.2,553.1 h6.0 M1356.2,550.1 v6.0 M1354.3,551.2 l3.7,3.7 M1354.3,555.0 l3.7,-3.7 M1363.2,553.1 h6.0 M1366.2,550.1 v6.0 M1364.3,551.2 l3.7,3.7 M1364.3,555.0 l3.7,-3.7 M1373.1,553.1 h6.0 M1376.1,550.1 v6.0 M1374.2,551.2 l3.7,3.7 M1374.2,555.0 l3.7,-3.7" stroke="#333" stroke-width="0.9" fill="none"/>
<g fill="#111"><circle cx="1017.9" cy="553.1" r="1.2"/><circle cx="1027.8" cy="553.1" r="1.2"/><circle cx="1037.8" cy="553.1" r="1.2"/><circle cx="1047.8" cy="553.1" r="1.2"/><circle cx="1057.7" cy="553.1" r="1.2"/><circle cx="1067.7" cy="553.1" r="1.2"/><circle cx="1077.6" cy="553.1" r="1.2"/><circle cx="1087.5" cy="553.1" r="1.2"/><circle cx="1097.5" cy="553.1" r="1.2"/><circle cx="1107.5" cy="553.1" r="1.2"/><circle cx="1117.4" cy="553.1" r="1.2"/><circle cx="1127.3" cy="553.1" r="1.2"/><circle cx="1137.3" cy="553.1" r="1.2"/><circle cx="1147.2" cy="553.1" r="1.2"/><circle cx="1157.2" cy="553.1" r="1.2"/><circle cx="1167.2" cy="553.1" r="1.2"/><circle cx="1177.1" cy="553.1" r="1.2"/><circle cx="1187.0" cy="553.1" r="1.2"/><circle cx="1197.0" cy="553.1" r="1.2"/><circle cx="1207.0" cy="553.1" r="1.2"/><circle cx="1216.9" cy="553.1" r="1.2"/><circle cx="1226.8" cy="553.1" r="1.2"/><circle cx="1236.8" cy="553.1" r="1.2"/><circle cx="1246.8" cy="553.1" r="1.2"/><circle cx="1256.7" cy="553.1" r="1.2"/><circle cx="1266.7" cy="553.1" r="1.2"/><circle cx="1276.6" cy="553.1" r="1.2"/><circle cx="1286.5" cy="553.1" r="1.2"/><circle cx="1296.5" cy="553.1" r="1.2"/><circle cx="1306.5" cy="553.1" r="1.2"/><circle cx="1316.4" cy="553.1" r="1.2"/><circle cx="1326.3" cy="553.1" r="1.2"/><circle cx="1336.3" cy="553.1" r="1.2"/><circle cx="1346.2" cy="553.1" r="1.2"/><circle cx="1356.2" cy="553.1" r="1.2"/><circle cx="1366.2" cy="553.1" r="1.2"/><circle cx="1376.1" cy="553.1" r="1.2"/></g>
<path d="M457.5,1063.2 L467.5,1032.9 L477.5,1019.3 L487.5,968.7 L497.5,987.0 L507.5,984.2 L517.5,970.6 L527.5,967.9 L537.5,965.6 L547.5,982.3 L557.5,984.2 L567.5,986.2 L577.5,982.3 L587.5,952.3 L597.5,949.2 L607.5,946.5 L617.5,935.6 L627.5,921.2 L637.5,943.4 L647.5,951.9 L657.5,943.4 L667.5,943.4 L677.5,943.4 L687.5,941.4 L697.5,947.3 L707.5,951.9 L717.5,958.2 L727.5,957.0 L737.5,958.9 L747.5,964.8 L757.5,953.9 L767.5,956.2 L777.5,958.9 L787.5,951.2 L797.5,943.4 L807.5,936.4 L817.5,946.5 L827.5,951.9 L827.5,1048.4 L817.5,1047.7 L807.5,1042.6 L797.5,1046.5 L787.5,1047.7 L777.5,1050.4 L767.5,1049.2 L757.5,1047.7 L747.5,1046.5 L737.5,1042.6 L727.5,1038.7 L717.5,1040.7 L707.5,1030.9 L697.5,1026.3 L687.5,1029.0 L677.5,1034.8 L667.5,1038.7 L657.5,1038.7 L647.5,1042.6 L637.5,1036.0 L627.5,1036.0 L617.5,1046.5 L607.5,1042.6 L597.5,1050.4 L587.5,1054.3 L577.5,1052.3 L567.5,1054.3 L557.5,1056.2 L547.5,1058.2 L537.5,1058.2 L527.5,1058.2 L517.5,1060.1 L507.5,1066.0 L497.5,1073.7 L487.5,1079.6 L477.5,1093.2 L467.5,1111.5 L457.5,1130.2 Z" fill="#0000ff" fill-opacity="0.115" stroke="none"/>
<path d="M457.5,1104.9 L467.5,1094.4 L477.5,1099.0 L487.5,1077.6 L497.5,1073.7 L507.5,1074.9 L517.5,1071.8 L527.5,1058.2 L537.5,1063.2 L547.5,1069.1 L557.5,1056.2 L567.5,1049.2 L577.5,1046.5 L587.5,1050.4 L597.5,1058.2 L607.5,1056.2 L617.5,1056.2 L627.5,1054.3 L637.5,1053.1 L647.5,1054.3 L657.5,1052.3 L667.5,1052.3 L677.5,1052.3 L687.5,1053.1 L697.5,1043.4 L707.5,1045.3 L717.5,1032.9 L727.5,1032.1 L737.5,1032.9 L747.5,1032.9 L757.5,1033.7 L767.5,1032.1 L777.5,1023.2 L787.5,1021.2 L797.5,1025.1 L807.5,1030.2 L817.5,1027.0 L827.5,1029.0 L827.5,1095.9 L817.5,1095.9 L807.5,1100.2 L797.5,1097.9 L787.5,1095.1 L777.5,1095.9 L767.5,1099.0 L757.5,1100.2 L747.5,1101.0 L737.5,1099.8 L727.5,1099.0 L717.5,1101.0 L707.5,1106.8 L697.5,1106.8 L687.5,1108.8 L677.5,1108.8 L667.5,1109.9 L657.5,1110.7 L647.5,1112.6 L637.5,1109.9 L627.5,1110.7 L617.5,1114.6 L607.5,1113.8 L597.5,1114.6 L587.5,1113.8 L577.5,1112.6 L567.5,1113.8 L557.5,1114.6 L547.5,1119.3 L537.5,1118.5 L527.5,1117.7 L517.5,1120.4 L507.5,1123.5 L497.5,1124.3 L487.5,1128.2 L477.5,1141.1 L467.5,1137.9 L457.5,1147.7 Z" fill="#ff0000" fill-opacity="0.115" stroke="none"/>
<path d="M457.5,1126.3 L467.5,1116.5 L477.5,1120.4 L487.5,1103.7 L497.5,1099.0 L507.5,1099.4 L517.5,1097.1 L527.5,1087.7 L537.5,1090.5 L547.5,1094.0 L557.5,1086.2 L567.5,1081.1 L577.5,1078.8 L587.5,1080.4 L597.5,1085.8 L607.5,1084.6 L617.5,1085.8 L627.5,1082.3 L637.5,1082.3 L647.5,1084.2 L657.5,1082.3 L667.5,1081.5 L677.5,1081.5 L687.5,1081.5 L697.5,1074.9 L707.5,1075.7 L717.5,1067.1 L727.5,1065.2 L737.5,1066.7 L747.5,1066.3 L757.5,1066.7 L767.5,1066.7 L777.5,1060.1 L787.5,1058.6 L797.5,1062.1 L807.5,1066.7 L817.5,1062.5 L827.5,1063.2" fill="none" stroke="#ee0000" stroke-width="2.6" stroke-linejoin="round"/>
<path d="M457.5,1095.9 L467.5,1072.6 L477.5,1055.4 L487.5,1023.9 L497.5,1030.2 L507.5,1024.3 L517.5,1015.4 L527.5,1013.4 L537.5,1011.5 L547.5,1020.0 L557.5,1019.3 L567.5,1020.0 L577.5,1016.5 L587.5,1003.7 L597.5,999.0 L607.5,994.7 L617.5,991.2 L627.5,978.4 L637.5,989.3 L647.5,997.1 L657.5,990.9 L667.5,991.2 L677.5,988.9 L687.5,985.4 L697.5,987.4 L707.5,992.0 L717.5,999.0 L727.5,998.2 L737.5,1001.0 L747.5,1005.6 L757.5,1000.6 L767.5,1002.9 L777.5,1005.6 L787.5,1001.0 L797.5,995.9 L807.5,990.1 L817.5,995.9 L827.5,999.8" fill="none" stroke="#0000ff" stroke-width="2.6" stroke-linejoin="round"/>
<path d="M427.5,866.7 L427.5,1155.4 L827.5,1155.4" fill="none" stroke="#262626" stroke-width="2.4" stroke-linecap="square"/>
<path d="M427.5,1155.4 h6 M427.5,1097.5 h6 M427.5,1039.9 h6 M427.5,982.3 h6 M427.5,924.7 h6 M427.5,866.7 h6 M527.5,1155.4 v-6 M627.5,1155.4 v-6 M727.5,1155.4 v-6 M827.5,1155.4 v-6" stroke="#262626" stroke-width="2.4" fill="none"/>
<text x="418.0" y="1165.9" font-size="24.5" text-anchor="end" font-weight="normal" fill="#262626" stroke="#262626" stroke-width="0.35" style="">4</text>
<text x="418.0" y="1108.0" font-size="24.5" text-anchor="end" font-weight="normal" fill="#262626" stroke="#262626" stroke-width="0.35" style="">5</text>
<text x="418.0" y="1050.4" font-size="24.5" text-anchor="end" font-weight="normal" fill="#262626" stroke="#262626" stroke-width="0.35" style="">6</text>
<text x="418.0" y="992.8" font-size="24.5" text-anchor="end" font-weight="normal" fill="#262626" stroke="#262626" stroke-width="0.35" style="">7</text>
<text x="418.0" y="935.2" font-size="24.5" text-anchor="end" font-weight="normal" fill="#262626" stroke="#262626" stroke-width="0.35" style="">8</text>
<text x="418.0" y="877.2" font-size="24.5" text-anchor="end" font-weight="normal" fill="#262626" stroke="#262626" stroke-width="0.35" style="">9</text>
<path d="M474.5,903.3 h6.0 M477.5,900.3 v6.0 M475.6,901.4 l3.7,3.7 M475.6,905.2 l3.7,-3.7 M484.5,903.3 h6.0 M487.5,900.3 v6.0 M485.6,901.4 l3.7,3.7 M485.6,905.2 l3.7,-3.7 M494.5,903.3 h6.0 M497.5,900.3 v6.0 M495.6,901.4 l3.7,3.7 M495.6,905.2 l3.7,-3.7 M504.5,903.3 h6.0 M507.5,900.3 v6.0 M505.6,901.4 l3.7,3.7 M505.6,905.2 l3.7,-3.7 M514.5,903.3 h6.0 M517.5,900.3 v6.0 M515.6,901.4 l3.7,3.7 M515.6,905.2 l3.7,-3.7 M524.5,903.3 h6.0 M527.5,900.3 v6.0 M525.6,901.4 l3.7,3.7 M525.6,905.2 l3.7,-3.7 M534.5,903.3 h6.0 M537.5,900.3 v6.0 M535.6,901.4 l3.7,3.7 M535.6,905.2 l3.7,-3.7 M544.5,903.3 h6.0 M547.5,900.3 v6.0 M545.6,901.4 l3.7,3.7 M545.6,905.2 l3.7,-3.7 M554.5,903.3 h6.0 M557.5,900.3 v6.0 M555.6,901.4 l3.7,3.7 M555.6,905.2 l3.7,-3.7 M564.5,903.3 h6.0 M567.5,900.3 v6.0 M565.6,901.4 l3.7,3.7 M565.6,905.2 l3.7,-3.7 M574.5,903.3 h6.0 M577.5,900.3 v6.0 M575.6,901.4 l3.7,3.7 M575.6,905.2 l3.7,-3.7 M584.5,903.3 h6.0 M587.5,900.3 v6.0 M585.6,901.4 l3.7,3.7 M585.6,905.2 l3.7,-3.7 M594.5,903.3 h6.0 M597.5,900.3 v6.0 M595.6,901.4 l3.7,3.7 M595.6,905.2 l3.7,-3.7 M604.5,903.3 h6.0 M607.5,900.3 v6.0 M605.6,901.4 l3.7,3.7 M605.6,905.2 l3.7,-3.7 M614.5,903.3 h6.0 M617.5,900.3 v6.0 M615.6,901.4 l3.7,3.7 M615.6,905.2 l3.7,-3.7 M624.5,903.3 h6.0 M627.5,900.3 v6.0 M625.6,901.4 l3.7,3.7 M625.6,905.2 l3.7,-3.7 M634.5,903.3 h6.0 M637.5,900.3 v6.0 M635.6,901.4 l3.7,3.7 M635.6,905.2 l3.7,-3.7 M644.5,903.3 h6.0 M647.5,900.3 v6.0 M645.6,901.4 l3.7,3.7 M645.6,905.2 l3.7,-3.7 M654.5,903.3 h6.0 M657.5,900.3 v6.0 M655.6,901.4 l3.7,3.7 M655.6,905.2 l3.7,-3.7 M664.5,903.3 h6.0 M667.5,900.3 v6.0 M665.6,901.4 l3.7,3.7 M665.6,905.2 l3.7,-3.7 M674.5,903.3 h6.0 M677.5,900.3 v6.0 M675.6,901.4 l3.7,3.7 M675.6,905.2 l3.7,-3.7 M684.5,903.3 h6.0 M687.5,900.3 v6.0 M685.6,901.4 l3.7,3.7 M685.6,905.2 l3.7,-3.7 M694.5,903.3 h6.0 M697.5,900.3 v6.0 M695.6,901.4 l3.7,3.7 M695.6,905.2 l3.7,-3.7 M704.5,903.3 h6.0 M707.5,900.3 v6.0 M705.6,901.4 l3.7,3.7 M705.6,905.2 l3.7,-3.7 M714.5,903.3 h6.0 M717.5,900.3 v6.0 M715.6,901.4 l3.7,3.7 M715.6,905.2 l3.7,-3.7 M724.5,903.3 h6.0 M727.5,900.3 v6.0 M725.6,901.4 l3.7,3.7 M725.6,905.2 l3.7,-3.7 M734.5,903.3 h6.0 M737.5,900.3 v6.0 M735.6,901.4 l3.7,3.7 M735.6,905.2 l3.7,-3.7 M744.5,903.3 h6.0 M747.5,900.3 v6.0 M745.6,901.4 l3.7,3.7 M745.6,905.2 l3.7,-3.7 M754.5,903.3 h6.0 M757.5,900.3 v6.0 M755.6,901.4 l3.7,3.7 M755.6,905.2 l3.7,-3.7 M764.5,903.3 h6.0 M767.5,900.3 v6.0 M765.6,901.4 l3.7,3.7 M765.6,905.2 l3.7,-3.7 M774.5,903.3 h6.0 M777.5,900.3 v6.0 M775.6,901.4 l3.7,3.7 M775.6,905.2 l3.7,-3.7 M784.5,903.3 h6.0 M787.5,900.3 v6.0 M785.6,901.4 l3.7,3.7 M785.6,905.2 l3.7,-3.7 M794.5,903.3 h6.0 M797.5,900.3 v6.0 M795.6,901.4 l3.7,3.7 M795.6,905.2 l3.7,-3.7 M804.5,903.3 h6.0 M807.5,900.3 v6.0 M805.6,901.4 l3.7,3.7 M805.6,905.2 l3.7,-3.7 M814.5,903.3 h6.0 M817.5,900.3 v6.0 M815.6,901.4 l3.7,3.7 M815.6,905.2 l3.7,-3.7 M824.5,903.3 h6.0 M827.5,900.3 v6.0 M825.6,901.4 l3.7,3.7 M825.6,905.2 l3.7,-3.7" stroke="#333" stroke-width="0.9" fill="none"/>
<g fill="#111"><circle cx="477.5" cy="903.3" r="1.2"/><circle cx="487.5" cy="903.3" r="1.2"/><circle cx="497.5" cy="903.3" r="1.2"/><circle cx="507.5" cy="903.3" r="1.2"/><circle cx="517.5" cy="903.3" r="1.2"/><circle cx="527.5" cy="903.3" r="1.2"/><circle cx="537.5" cy="903.3" r="1.2"/><circle cx="547.5" cy="903.3" r="1.2"/><circle cx="557.5" cy="903.3" r="1.2"/><circle cx="567.5" cy="903.3" r="1.2"/><circle cx="577.5" cy="903.3" r="1.2"/><circle cx="587.5" cy="903.3" r="1.2"/><circle cx="597.5" cy="903.3" r="1.2"/><circle cx="607.5" cy="903.3" r="1.2"/><circle cx="617.5" cy="903.3" r="1.2"/><circle cx="627.5" cy="903.3" r="1.2"/><circle cx="637.5" cy="903.3" r="1.2"/><circle cx="647.5" cy="903.3" r="1.2"/><circle cx="657.5" cy="903.3" r="1.2"/><circle cx="667.5" cy="903.3" r="1.2"/><circle cx="677.5" cy="903.3" r="1.2"/><circle cx="687.5" cy="903.3" r="1.2"/><circle cx="697.5" cy="903.3" r="1.2"/><circle cx="707.5" cy="903.3" r="1.2"/><circle cx="717.5" cy="903.3" r="1.2"/><circle cx="727.5" cy="903.3" r="1.2"/><circle cx="737.5" cy="903.3" r="1.2"/><circle cx="747.5" cy="903.3" r="1.2"/><circle cx="757.5" cy="903.3" r="1.2"/><circle cx="767.5" cy="903.3" r="1.2"/><circle cx="777.5" cy="903.3" r="1.2"/><circle cx="787.5" cy="903.3" r="1.2"/><circle cx="797.5" cy="903.3" r="1.2"/><circle cx="807.5" cy="903.3" r="1.2"/><circle cx="817.5" cy="903.3" r="1.2"/><circle cx="827.5" cy="903.3" r="1.2"/></g>
<path d="M1009.5,867.6 L1019.4,884.8 L1029.2,895.8 L1039.1,912.2 L1049.0,929.8 L1058.8,936.0 L1068.7,944.4 L1078.5,954.3 L1088.3,959.8 L1098.2,966.4 L1108.0,972.6 L1117.9,978.1 L1127.8,984.7 L1137.6,988.4 L1147.5,998.2 L1157.3,1003.7 L1167.2,1008.1 L1177.0,1012.9 L1186.8,1018.4 L1196.7,1019.1 L1206.5,1025.7 L1216.4,1027.5 L1226.2,1031.2 L1236.1,1036.7 L1246.0,1043.3 L1255.8,1047.7 L1265.7,1051.3 L1275.5,1053.1 L1285.3,1056.8 L1295.2,1062.3 L1305.0,1066.0 L1314.9,1069.6 L1324.8,1074.0 L1334.6,1078.8 L1344.5,1081.3 L1354.3,1085.0 L1364.2,1087.9 L1374.0,1090.8 L1374.0,1132.9 L1364.2,1130.4 L1354.3,1128.6 L1344.5,1126.0 L1334.6,1124.2 L1324.8,1120.9 L1314.9,1117.6 L1305.0,1116.5 L1295.2,1113.2 L1285.3,1110.2 L1275.5,1107.7 L1265.7,1104.0 L1255.8,1101.5 L1246.0,1098.9 L1236.1,1094.5 L1226.2,1091.6 L1216.4,1089.8 L1206.5,1087.9 L1196.7,1084.3 L1186.8,1080.6 L1177.0,1078.8 L1167.2,1075.1 L1157.3,1073.3 L1147.5,1069.6 L1137.6,1067.8 L1127.8,1058.6 L1117.9,1056.8 L1108.0,1050.6 L1098.2,1044.0 L1088.3,1036.7 L1078.5,1031.2 L1068.7,1023.9 L1058.8,1018.4 L1049.0,1011.1 L1039.1,1000.1 L1029.2,990.9 L1019.4,976.3 L1009.5,959.8 Z" fill="#0000ff" fill-opacity="0.115" stroke="none"/>
<path d="M1009.5,893.2 L1019.4,908.6 L1029.2,929.8 L1039.1,945.2 L1049.0,958.0 L1058.8,963.5 L1068.7,970.8 L1078.5,984.7 L1088.3,990.9 L1098.2,998.2 L1108.0,1003.7 L1117.9,1012.9 L1127.8,1022.0 L1137.6,1028.6 L1147.5,1034.8 L1157.3,1040.3 L1167.2,1044.0 L1177.0,1049.5 L1186.8,1055.0 L1196.7,1056.8 L1206.5,1059.4 L1216.4,1066.0 L1226.2,1069.6 L1236.1,1073.3 L1246.0,1078.8 L1255.8,1082.4 L1265.7,1084.3 L1275.5,1087.2 L1285.3,1091.6 L1295.2,1094.5 L1305.0,1097.1 L1314.9,1100.7 L1324.8,1102.6 L1334.6,1106.2 L1344.5,1108.1 L1354.3,1111.7 L1364.2,1114.3 L1374.0,1117.2 L1374.0,1152.0 L1364.2,1149.4 L1354.3,1148.3 L1344.5,1146.5 L1334.6,1144.7 L1324.8,1142.8 L1314.9,1139.9 L1305.0,1139.2 L1295.2,1137.3 L1285.3,1134.8 L1275.5,1131.8 L1265.7,1128.9 L1255.8,1126.4 L1246.0,1124.5 L1236.1,1120.9 L1226.2,1117.2 L1216.4,1112.8 L1206.5,1109.9 L1196.7,1107.0 L1186.8,1105.5 L1177.0,1102.6 L1167.2,1098.9 L1157.3,1097.1 L1147.5,1092.3 L1137.6,1087.9 L1127.8,1084.3 L1117.9,1080.6 L1108.0,1073.3 L1098.2,1066.0 L1088.3,1060.5 L1078.5,1058.6 L1068.7,1044.0 L1058.8,1036.7 L1049.0,1033.0 L1039.1,1025.7 L1029.2,1016.5 L1019.4,996.4 L1009.5,979.9 Z" fill="#ff0000" fill-opacity="0.115" stroke="none"/>
<path d="M1009.5,937.1 L1019.4,948.1 L1029.2,969.0 L1039.1,979.9 L1049.0,990.9 L1058.8,996.4 L1068.7,1005.6 L1078.5,1018.4 L1088.3,1022.0 L1098.2,1027.5 L1108.0,1034.8 L1117.9,1045.8 L1127.8,1050.6 L1137.6,1056.8 L1147.5,1061.6 L1157.3,1067.8 L1167.2,1071.4 L1177.0,1076.2 L1186.8,1079.5 L1196.7,1081.3 L1206.5,1083.2 L1216.4,1087.2 L1226.2,1090.5 L1236.1,1094.5 L1246.0,1101.8 L1255.8,1103.3 L1265.7,1106.2 L1275.5,1109.2 L1285.3,1113.5 L1295.2,1113.5 L1305.0,1115.4 L1314.9,1119.0 L1324.8,1122.0 L1334.6,1124.5 L1344.5,1126.4 L1354.3,1128.2 L1364.2,1131.1 L1374.0,1134.4" fill="none" stroke="#ee0000" stroke-width="2.6" stroke-linejoin="round"/>
<path d="M1009.5,920.6 L1019.4,936.0 L1029.2,947.0 L1039.1,959.8 L1049.0,974.5 L1058.8,979.9 L1068.7,987.3 L1078.5,996.4 L1088.3,1001.9 L1098.2,1009.2 L1108.0,1015.4 L1117.9,1020.9 L1127.8,1022.0 L1137.6,1033.0 L1147.5,1037.4 L1157.3,1039.2 L1167.2,1044.0 L1177.0,1049.5 L1186.8,1050.2 L1196.7,1057.9 L1206.5,1059.4 L1216.4,1061.6 L1226.2,1066.7 L1236.1,1071.4 L1246.0,1076.2 L1255.8,1078.8 L1265.7,1079.9 L1275.5,1082.4 L1285.3,1086.1 L1295.2,1088.7 L1305.0,1091.6 L1314.9,1094.5 L1324.8,1098.2 L1334.6,1102.6 L1344.5,1103.7 L1354.3,1106.2 L1364.2,1109.2 L1374.0,1111.7" fill="none" stroke="#0000ff" stroke-width="2.6" stroke-linejoin="round"/>
<path d="M980.0,866.5 L980.0,1155.8 L1374.0,1155.8" fill="none" stroke="#262626" stroke-width="2.4" stroke-linecap="square"/>
<path d="M980.0,1128.9 h6 M980.0,1066.0 h6 M980.0,1003.7 h6 M980.0,940.8 h6 M980.0,878.2 h6 M1078.5,1155.8 v-6 M1177.0,1155.8 v-6 M1275.5,1155.8 v-6 M1374.0,1155.8 v-6" stroke="#262626" stroke-width="2.4" fill="none"/>
<text x="970.5" y="1139.4" font-size="24.5" text-anchor="end" font-weight="normal" fill="#262626" stroke="#262626" stroke-width="0.35" style="">0.1</text>
<text x="970.5" y="1076.5" font-size="24.5" text-anchor="end" font-weight="normal" fill="#262626" stroke="#262626" stroke-width="0.35" style="">0.15</text>
<text x="970.5" y="1014.2" font-size="24.5" text-anchor="end" font-weight="normal" fill="#262626" stroke="#262626" stroke-width="0.35" style="">0.2</text>
<text x="970.5" y="951.3" font-size="24.5" text-anchor="end" font-weight="normal" fill="#262626" stroke="#262626" stroke-width="0.35" style="">0.25</text>
<text x="970.5" y="888.7" font-size="24.5" text-anchor="end" font-weight="normal" fill="#262626" stroke="#262626" stroke-width="0.35" style="">0.3</text>
<path d="M453.9,1536.7 L459.0,1530.8 L464.0,1525.4 L469.1,1520.4 L474.1,1515.8 L479.2,1511.4 L484.2,1507.3 L489.2,1503.3 L494.3,1499.5 L499.4,1495.9 L504.4,1492.4 L509.5,1489.0 L514.5,1485.7 L519.6,1482.5 L524.6,1479.3 L529.6,1476.3 L534.7,1473.3 L539.8,1470.3 L544.8,1467.4 L549.9,1464.5 L554.9,1461.7 L560.0,1458.8 L565.0,1456.1 L570.0,1453.3 L575.1,1450.6 L580.1,1447.9 L585.2,1445.2 L590.2,1442.5 L595.3,1439.8 L600.4,1437.2 L605.4,1434.5 L610.5,1431.9 L615.5,1429.3 L620.5,1426.6 L625.6,1424.0 L630.6,1421.4 L635.7,1418.8 L640.8,1416.1 L645.8,1413.5 L650.9,1410.9 L655.9,1408.3 L661.0,1405.6 L666.0,1403.0 L671.0,1400.3 L676.1,1397.7 L681.2,1395.1 L686.2,1392.4 L691.2,1389.7 L696.3,1387.1 L701.4,1384.4 L706.4,1381.7 L711.5,1379.0 L716.5,1376.3 L721.5,1373.6 L726.6,1370.8 L731.7,1368.1 L736.7,1365.3 L741.8,1362.6 L746.8,1359.8 L751.9,1357.0 L756.9,1354.2 L762.0,1351.4 L767.0,1348.6 L772.0,1345.8 L777.1,1342.9 L782.2,1340.1 L787.2,1337.2 L792.2,1334.3 L797.3,1331.4 L802.4,1328.5 L807.4,1325.6 L812.5,1322.7 L817.5,1319.7 L822.5,1316.7 L827.6,1313.8 L827.6,1380.4 L822.5,1382.1 L817.5,1383.8 L812.5,1385.4 L807.4,1387.1 L802.4,1388.8 L797.3,1390.5 L792.2,1392.2 L787.2,1393.9 L782.2,1395.6 L777.1,1397.3 L772.0,1399.1 L767.0,1400.8 L762.0,1402.5 L756.9,1404.3 L751.9,1406.0 L746.8,1407.8 L741.8,1409.6 L736.7,1411.4 L731.7,1413.2 L726.6,1415.0 L721.5,1416.8 L716.5,1418.6 L711.5,1420.4 L706.4,1422.2 L701.4,1424.1 L696.3,1425.9 L691.2,1427.8 L686.2,1429.7 L681.2,1431.6 L676.1,1433.5 L671.0,1435.4 L666.0,1437.3 L661.0,1439.3 L655.9,1441.2 L650.9,1443.2 L645.8,1445.1 L640.8,1447.1 L635.7,1449.1 L630.6,1451.2 L625.6,1453.2 L620.5,1455.3 L615.5,1457.3 L610.5,1459.4 L605.4,1461.5 L600.4,1463.6 L595.3,1465.8 L590.2,1468.0 L585.2,1470.2 L580.1,1472.4 L575.1,1474.6 L570.0,1476.9 L565.0,1479.2 L560.0,1481.5 L554.9,1483.8 L549.9,1486.2 L544.8,1488.6 L539.8,1491.1 L534.7,1493.5 L529.6,1496.1 L524.6,1498.6 L519.6,1501.2 L514.5,1503.9 L509.5,1506.6 L504.4,1509.4 L499.4,1512.2 L494.3,1515.2 L489.2,1518.1 L484.2,1521.2 L479.2,1524.4 L474.1,1527.7 L469.1,1531.1 L464.0,1534.7 L459.0,1538.5 L453.9,1542.5 Z" fill="#0000ff" fill-opacity="0.115" stroke="none"/>
<path d="M453.9,1534.9 L459.0,1529.0 L464.0,1523.5 L469.1,1518.3 L474.1,1513.3 L479.2,1508.5 L484.2,1503.9 L489.2,1499.5 L494.3,1495.2 L499.4,1491.1 L504.4,1487.0 L509.5,1483.0 L514.5,1479.1 L519.6,1475.3 L524.6,1471.5 L529.6,1467.8 L534.7,1464.2 L539.8,1460.6 L544.8,1457.0 L549.9,1453.5 L554.9,1450.1 L560.0,1446.6 L565.0,1443.2 L570.0,1439.8 L575.1,1436.5 L580.1,1433.1 L585.2,1429.8 L590.2,1426.5 L595.3,1423.3 L600.4,1420.0 L605.4,1416.8 L610.5,1413.6 L615.5,1410.3 L620.5,1407.1 L625.6,1404.0 L630.6,1400.8 L635.7,1397.6 L640.8,1394.5 L645.8,1391.3 L650.9,1388.2 L655.9,1385.0 L661.0,1381.9 L666.0,1378.8 L671.0,1375.7 L676.1,1372.5 L681.2,1369.4 L686.2,1366.3 L691.2,1363.2 L696.3,1360.1 L701.4,1357.0 L706.4,1353.9 L711.5,1350.8 L716.5,1347.7 L721.5,1344.6 L726.6,1341.5 L731.7,1338.4 L736.7,1335.3 L741.8,1332.2 L746.8,1329.1 L751.9,1325.9 L756.9,1322.8 L762.0,1319.7 L767.0,1316.6 L772.0,1313.5 L777.1,1310.4 L782.2,1307.3 L787.2,1304.1 L792.2,1301.0 L797.3,1297.9 L802.4,1294.8 L807.4,1291.6 L812.5,1288.5 L817.5,1285.3 L822.5,1282.2 L827.6,1279.0 L827.6,1345.5 L822.5,1347.3 L817.5,1349.2 L812.5,1351.0 L807.4,1352.9 L802.4,1354.8 L797.3,1356.7 L792.2,1358.6 L787.2,1360.6 L782.2,1362.5 L777.1,1364.4 L772.0,1366.4 L767.0,1368.4 L762.0,1370.4 L756.9,1372.4 L751.9,1374.4 L746.8,1376.5 L741.8,1378.5 L736.7,1380.6 L731.7,1382.7 L726.6,1384.8 L721.5,1386.9 L716.5,1389.0 L711.5,1391.2 L706.4,1393.3 L701.4,1395.5 L696.3,1397.7 L691.2,1399.9 L686.2,1402.2 L681.2,1404.4 L676.1,1406.7 L671.0,1409.0 L666.0,1411.3 L661.0,1413.6 L655.9,1415.9 L650.9,1418.3 L645.8,1420.7 L640.8,1423.1 L635.7,1425.5 L630.6,1428.0 L625.6,1430.5 L620.5,1433.0 L615.5,1435.5 L610.5,1438.0 L605.4,1440.6 L600.4,1443.2 L595.3,1445.9 L590.2,1448.5 L585.2,1451.2 L580.1,1453.9 L575.1,1456.7 L570.0,1459.5 L565.0,1462.3 L560.0,1465.1 L554.9,1468.0 L549.9,1470.9 L544.8,1473.9 L539.8,1476.9 L534.7,1480.0 L529.6,1483.1 L524.6,1486.2 L519.6,1489.4 L514.5,1492.7 L509.5,1496.0 L504.4,1499.4 L499.4,1502.9 L494.3,1506.4 L489.2,1510.0 L484.2,1513.8 L479.2,1517.6 L474.1,1521.5 L469.1,1525.6 L464.0,1529.8 L459.0,1534.2 L453.9,1538.8 Z" fill="#ff0000" fill-opacity="0.115" stroke="none"/>
<path d="M453.9,1537.0 L459.0,1531.9 L464.0,1527.1 L469.1,1522.5 L474.1,1518.0 L479.2,1513.7 L484.2,1509.5 L489.2,1505.5 L494.3,1501.5 L499.4,1497.6 L504.4,1493.8 L509.5,1490.1 L514.5,1486.4 L519.6,1482.8 L524.6,1479.3 L529.6,1475.8 L534.7,1472.4 L539.8,1469.0 L544.8,1465.6 L549.9,1462.3 L554.9,1459.0 L560.0,1455.8 L565.0,1452.6 L570.0,1449.4 L575.1,1446.2 L580.1,1443.1 L585.2,1440.0 L590.2,1437.0 L595.3,1433.9 L600.4,1430.9 L605.4,1427.9 L610.5,1424.9 L615.5,1422.0 L620.5,1419.0 L625.6,1416.1 L630.6,1413.2 L635.7,1410.4 L640.8,1407.5 L645.8,1404.7 L650.9,1401.8 L655.9,1399.0 L661.0,1396.2 L666.0,1393.4 L671.0,1390.7 L676.1,1387.9 L681.2,1385.2 L686.2,1382.5 L691.2,1379.7 L696.3,1377.0 L701.4,1374.3 L706.4,1371.7 L711.5,1369.0 L716.5,1366.3 L721.5,1363.7 L726.6,1361.1 L731.7,1358.4 L736.7,1355.8 L741.8,1353.2 L746.8,1350.6 L751.9,1348.0 L756.9,1345.5 L762.0,1342.9 L767.0,1340.3 L772.0,1337.8 L777.1,1335.2 L782.2,1332.7 L787.2,1330.2 L792.2,1327.7 L797.3,1325.2 L802.4,1322.7 L807.4,1320.2 L812.5,1317.7 L817.5,1315.2 L822.5,1312.7 L827.6,1310.2" fill="none" stroke="#ee0000" stroke-width="2.6" stroke-linejoin="round"/>
<path d="M453.9,1538.8 L459.0,1534.5 L464.0,1530.4 L469.1,1526.4 L474.1,1522.6 L479.2,1518.9 L484.2,1515.3 L489.2,1511.9 L494.3,1508.5 L499.4,1505.2 L504.4,1501.9 L509.5,1498.7 L514.5,1495.6 L519.6,1492.5 L524.6,1489.5 L529.6,1486.5 L534.7,1483.6 L539.8,1480.7 L544.8,1477.8 L549.9,1475.0 L554.9,1472.2 L560.0,1469.5 L565.0,1466.7 L570.0,1464.0 L575.1,1461.3 L580.1,1458.7 L585.2,1456.1 L590.2,1453.4 L595.3,1450.9 L600.4,1448.3 L605.4,1445.8 L610.5,1443.2 L615.5,1440.7 L620.5,1438.2 L625.6,1435.8 L630.6,1433.3 L635.7,1430.9 L640.8,1428.4 L645.8,1426.0 L650.9,1423.6 L655.9,1421.2 L661.0,1418.9 L666.0,1416.5 L671.0,1414.2 L676.1,1411.8 L681.2,1409.5 L686.2,1407.2 L691.2,1404.9 L696.3,1402.6 L701.4,1400.3 L706.4,1398.1 L711.5,1395.8 L716.5,1393.6 L721.5,1391.3 L726.6,1389.1 L731.7,1386.9 L736.7,1384.7 L741.8,1382.5 L746.8,1380.3 L751.9,1378.1 L756.9,1375.9 L762.0,1373.7 L767.0,1371.6 L772.0,1369.4 L777.1,1367.3 L782.2,1365.2 L787.2,1363.0 L792.2,1360.9 L797.3,1358.8 L802.4,1356.7 L807.4,1354.6 L812.5,1352.5 L817.5,1350.4 L822.5,1348.3 L827.6,1346.2" fill="none" stroke="#0000ff" stroke-width="2.6" stroke-linejoin="round"/>
<path d="M423.6,1277.5 L423.6,1565.6 L827.6,1565.6" fill="none" stroke="#262626" stroke-width="2.4" stroke-linecap="square"/>
<path d="M423.6,1565.6 h6 M423.6,1435.8 h6 M423.6,1306.3 h6 M524.6,1565.6 v-6 M625.6,1565.6 v-6 M726.6,1565.6 v-6 M827.6,1565.6 v-6" stroke="#262626" stroke-width="2.4" fill="none"/>
<text x="414.1" y="1576.1" font-size="24.5" text-anchor="end" font-weight="normal" fill="#262626" stroke="#262626" stroke-width="0.35" style="">0</text>
<text x="414.1" y="1446.3" font-size="24.5" text-anchor="end" font-weight="normal" fill="#262626" stroke="#262626" stroke-width="0.35" style="">5</text>
<text x="414.1" y="1316.8" font-size="24.5" text-anchor="end" font-weight="normal" fill="#262626" stroke="#262626" stroke-width="0.35" style="">10</text>
<path d="M1007.6,1308.9 L1017.5,1282.2 L1027.3,1289.5 L1037.1,1299.5 L1047.0,1301.0 L1056.8,1307.8 L1066.7,1308.6 L1076.5,1313.5 L1086.3,1314.7 L1096.2,1317.6 L1106.0,1317.3 L1115.9,1317.6 L1125.7,1324.8 L1135.5,1326.2 L1145.4,1329.1 L1155.2,1332.0 L1165.1,1334.6 L1174.9,1337.0 L1184.7,1339.9 L1194.6,1344.2 L1204.4,1347.1 L1214.3,1349.7 L1224.1,1351.5 L1233.9,1352.6 L1243.8,1354.4 L1253.6,1355.9 L1263.5,1357.4 L1273.3,1358.8 L1283.1,1359.9 L1293.0,1361.4 L1302.8,1362.5 L1312.7,1363.6 L1322.5,1365.1 L1332.3,1366.1 L1342.2,1368.0 L1352.0,1369.8 L1361.9,1370.5 L1371.7,1371.6 L1371.7,1497.9 L1361.9,1497.1 L1352.0,1496.3 L1342.2,1495.5 L1332.3,1494.7 L1322.5,1493.9 L1312.7,1493.0 L1302.8,1492.2 L1293.0,1491.4 L1283.1,1490.6 L1273.3,1489.8 L1263.5,1489.0 L1253.6,1488.2 L1243.8,1487.3 L1233.9,1486.5 L1224.1,1485.7 L1214.3,1484.9 L1204.4,1484.1 L1194.6,1483.3 L1184.7,1483.0 L1174.9,1481.8 L1165.1,1480.7 L1155.2,1480.1 L1145.4,1478.9 L1135.5,1477.5 L1125.7,1476.1 L1115.9,1471.7 L1106.0,1468.8 L1096.2,1466.7 L1086.3,1463.8 L1076.5,1460.9 L1066.7,1457.3 L1056.8,1460.2 L1047.0,1455.2 L1037.1,1454.4 L1027.3,1446.5 L1017.5,1450.1 L1007.6,1462.4 Z" fill="#0000ff" fill-opacity="0.115" stroke="none"/>
<path d="M1007.6,1417.0 L1017.5,1408.3 L1027.3,1405.4 L1037.1,1401.4 L1047.0,1406.2 L1056.8,1409.8 L1066.7,1411.9 L1076.5,1410.9 L1086.3,1411.9 L1096.2,1414.8 L1106.0,1414.1 L1115.9,1417.7 L1125.7,1420.6 L1135.5,1423.0 L1145.4,1425.6 L1155.2,1427.8 L1165.1,1429.2 L1174.9,1432.1 L1184.7,1434.3 L1194.6,1435.0 L1204.4,1436.3 L1214.3,1437.6 L1224.1,1438.9 L1233.9,1440.2 L1243.8,1441.5 L1253.6,1442.8 L1263.5,1444.1 L1273.3,1445.4 L1283.1,1446.7 L1293.0,1448.1 L1302.8,1449.5 L1312.7,1450.9 L1322.5,1452.4 L1332.3,1453.8 L1342.2,1455.2 L1352.0,1456.6 L1361.9,1458.1 L1371.7,1459.5 L1371.7,1527.2 L1361.9,1526.0 L1352.0,1524.8 L1342.2,1523.5 L1332.3,1522.3 L1322.5,1521.1 L1312.7,1519.9 L1302.8,1518.7 L1293.0,1517.4 L1283.1,1516.2 L1273.3,1515.0 L1263.5,1513.8 L1253.6,1512.6 L1243.8,1511.3 L1233.9,1510.1 L1224.1,1508.9 L1214.3,1507.7 L1204.4,1506.5 L1194.6,1505.2 L1184.7,1504.1 L1174.9,1502.3 L1165.1,1499.8 L1155.2,1498.4 L1145.4,1496.9 L1135.5,1495.1 L1125.7,1493.1 L1115.9,1489.7 L1106.0,1487.3 L1096.2,1485.4 L1086.3,1483.0 L1076.5,1483.0 L1066.7,1484.4 L1056.8,1481.5 L1047.0,1478.9 L1037.1,1478.6 L1027.3,1484.3 L1017.5,1490.5 L1007.6,1498.4 Z" fill="#ff0000" fill-opacity="0.115" stroke="none"/>
<path d="M1007.6,1458.0 L1017.5,1449.4 L1027.3,1444.4 L1037.1,1439.7 L1047.0,1442.2 L1056.8,1445.8 L1066.7,1448.0 L1076.5,1446.5 L1086.3,1446.9 L1096.2,1450.1 L1106.0,1450.4 L1115.9,1453.7 L1125.7,1456.6 L1135.5,1459.0 L1145.4,1460.9 L1155.2,1463.1 L1165.1,1464.2 L1174.9,1466.7 L1184.7,1468.8 L1194.6,1469.7 L1204.4,1471.2 L1214.3,1473.0 L1224.1,1474.9 L1233.9,1476.0 L1243.8,1477.8 L1253.6,1479.6 L1263.5,1480.7 L1273.3,1482.2 L1283.1,1484.0 L1293.0,1485.1 L1302.8,1485.8 L1312.7,1486.9 L1322.5,1488.0 L1332.3,1489.5 L1342.2,1490.6 L1352.0,1491.7 L1361.9,1492.4 L1371.7,1493.5" fill="none" stroke="#ee0000" stroke-width="2.6" stroke-linejoin="round"/>
<path d="M1007.6,1386.0 L1017.5,1364.4 L1027.3,1368.0 L1037.1,1376.9 L1047.0,1377.3 L1056.8,1384.1 L1066.7,1382.4 L1076.5,1387.4 L1086.3,1388.9 L1096.2,1391.8 L1106.0,1392.5 L1115.9,1394.2 L1125.7,1400.4 L1135.5,1402.3 L1145.4,1404.3 L1155.2,1406.2 L1165.1,1407.6 L1174.9,1409.8 L1184.7,1411.5 L1194.6,1413.7 L1204.4,1415.6 L1214.3,1417.4 L1224.1,1419.2 L1233.9,1420.3 L1243.8,1421.1 L1253.6,1421.8 L1263.5,1422.9 L1273.3,1424.0 L1283.1,1425.4 L1293.0,1426.5 L1302.8,1427.3 L1312.7,1427.6 L1322.5,1429.1 L1332.3,1430.6 L1342.2,1432.0 L1352.0,1433.5 L1361.9,1434.6 L1371.7,1435.7" fill="none" stroke="#0000ff" stroke-width="2.6" stroke-linejoin="round"/>
<path d="M978.1,1277.2 L978.1,1565.6 L1371.7,1565.6" fill="none" stroke="#262626" stroke-width="2.4" stroke-linecap="square"/>
<path d="M978.1,1565.6 h6 M978.1,1508.2 h6 M978.1,1450.3 h6 M978.1,1392.9 h6 M978.1,1335.0 h6 M978.1,1277.2 h6 M1076.5,1565.6 v-6 M1174.9,1565.6 v-6 M1273.3,1565.6 v-6 M1371.7,1565.6 v-6" stroke="#262626" stroke-width="2.4" fill="none"/>
<text x="968.6" y="1576.1" font-size="24.5" text-anchor="end" font-weight="normal" fill="#262626" stroke="#262626" stroke-width="0.35" style="">3</text>
<text x="968.6" y="1518.7" font-size="24.5" text-anchor="end" font-weight="normal" fill="#262626" stroke="#262626" stroke-width="0.35" style="">4</text>
<text x="968.6" y="1460.8" font-size="24.5" text-anchor="end" font-weight="normal" fill="#262626" stroke="#262626" stroke-width="0.35" style="">5</text>
<text x="968.6" y="1403.4" font-size="24.5" text-anchor="end" font-weight="normal" fill="#262626" stroke="#262626" stroke-width="0.35" style="">6</text>
<text x="968.6" y="1345.5" font-size="24.5" text-anchor="end" font-weight="normal" fill="#262626" stroke="#262626" stroke-width="0.35" style="">7</text>
<text x="968.6" y="1287.7" font-size="24.5" text-anchor="end" font-weight="normal" fill="#262626" stroke="#262626" stroke-width="0.35" style="">8</text>
<path d="M450.6,1849.8 L460.1,1828.4 L469.7,1812.9 L479.3,1799.3 L488.8,1791.5 L498.4,1779.8 L507.9,1770.1 L517.5,1765.4 L527.1,1762.3 L536.6,1758.4 L546.2,1755.3 L555.7,1752.6 L565.3,1748.7 L574.9,1744.8 L584.4,1742.8 L594.0,1740.1 L603.5,1737.0 L613.1,1733.1 L622.7,1730.4 L632.2,1728.4 L641.8,1726.5 L651.3,1724.6 L660.9,1722.6 L670.5,1720.3 L680.0,1718.3 L689.6,1716.4 L699.1,1713.7 L708.7,1710.9 L718.3,1707.8 L727.8,1705.9 L737.4,1703.2 L746.9,1700.8 L756.5,1699.3 L766.1,1696.9 L775.6,1695.4 L785.2,1694.2 L794.7,1693.0 L804.3,1691.5 L804.3,1750.6 L794.7,1751.4 L785.2,1751.8 L775.6,1752.6 L766.1,1753.7 L756.5,1754.5 L746.9,1755.7 L737.4,1757.2 L727.8,1758.4 L718.3,1759.6 L708.7,1761.1 L699.1,1763.1 L689.6,1764.2 L680.0,1766.2 L670.5,1768.1 L660.9,1770.1 L651.3,1772.0 L641.8,1773.2 L632.2,1774.7 L622.7,1775.9 L613.1,1778.6 L603.5,1781.0 L594.0,1783.7 L584.4,1785.6 L574.9,1787.6 L565.3,1790.7 L555.7,1793.4 L546.2,1795.4 L536.6,1797.3 L527.1,1801.2 L517.5,1803.2 L507.9,1805.9 L498.4,1814.8 L488.8,1822.6 L479.3,1830.4 L469.7,1841.3 L460.1,1855.7 L450.6,1872.0 Z" fill="#0000ff" fill-opacity="0.115" stroke="none"/>
<path d="M450.6,1826.5 L460.1,1797.3 L469.7,1787.6 L479.3,1774.0 L488.8,1756.5 L498.4,1754.5 L507.9,1742.1 L517.5,1735.8 L527.1,1735.1 L536.6,1727.3 L546.2,1725.3 L555.7,1718.7 L565.3,1711.7 L574.9,1707.8 L584.4,1703.9 L594.0,1700.0 L603.5,1696.9 L613.1,1693.4 L622.7,1688.4 L632.2,1687.2 L641.8,1684.5 L651.3,1683.3 L660.9,1681.4 L670.5,1679.4 L680.0,1677.9 L689.6,1675.9 L699.1,1673.6 L708.7,1670.9 L718.3,1668.9 L727.8,1666.2 L737.4,1664.2 L746.9,1661.9 L756.5,1660.4 L766.1,1658.4 L775.6,1657.2 L785.2,1656.5 L794.7,1656.5 L804.3,1656.5 L804.3,1713.7 L794.7,1713.7 L785.2,1714.0 L775.6,1714.8 L766.1,1715.6 L756.5,1716.4 L746.9,1717.5 L737.4,1719.5 L727.8,1721.4 L718.3,1723.4 L708.7,1725.3 L699.1,1727.3 L689.6,1728.1 L680.0,1730.4 L670.5,1731.9 L660.9,1733.1 L651.3,1735.1 L641.8,1737.0 L632.2,1738.9 L622.7,1740.9 L613.1,1743.6 L603.5,1747.9 L594.0,1749.8 L584.4,1753.7 L574.9,1758.4 L565.3,1762.3 L555.7,1767.0 L546.2,1770.9 L536.6,1774.7 L527.1,1779.8 L517.5,1781.8 L507.9,1787.6 L498.4,1793.4 L488.8,1798.1 L479.3,1812.9 L469.7,1824.6 L460.1,1831.6 L450.6,1851.0 Z" fill="#ff0000" fill-opacity="0.115" stroke="none"/>
<path d="M450.6,1838.2 L460.1,1814.8 L469.7,1807.0 L479.3,1793.4 L488.8,1777.1 L498.4,1774.0 L507.9,1765.4 L517.5,1759.6 L527.1,1758.4 L536.6,1750.6 L546.2,1747.9 L555.7,1742.8 L565.3,1737.0 L574.9,1733.1 L584.4,1728.4 L594.0,1724.2 L603.5,1722.6 L613.1,1717.5 L622.7,1714.4 L632.2,1712.9 L641.8,1710.9 L651.3,1709.0 L660.9,1707.0 L670.5,1705.9 L680.0,1703.9 L689.6,1702.0 L699.1,1700.8 L708.7,1698.1 L718.3,1696.1 L727.8,1694.2 L737.4,1692.3 L746.9,1690.3 L756.5,1689.1 L766.1,1687.6 L775.6,1686.4 L785.2,1684.5 L794.7,1682.5 L804.3,1681.4" fill="none" stroke="#ee0000" stroke-width="2.6" stroke-linejoin="round"/>
<path d="M450.6,1861.5 L460.1,1842.1 L469.7,1827.7 L479.3,1813.7 L488.8,1805.9 L498.4,1796.5 L507.9,1786.8 L517.5,1783.7 L527.1,1781.8 L536.6,1777.1 L546.2,1774.7 L555.7,1772.8 L565.3,1770.1 L574.9,1767.0 L584.4,1765.0 L594.0,1762.3 L603.5,1759.2 L613.1,1757.2 L622.7,1753.7 L632.2,1752.6 L641.8,1750.6 L651.3,1749.5 L660.9,1748.7 L670.5,1746.7 L680.0,1744.8 L689.6,1742.8 L699.1,1740.9 L708.7,1738.2 L718.3,1735.8 L727.8,1733.9 L737.4,1733.1 L746.9,1731.2 L756.5,1730.0 L766.1,1728.1 L775.6,1726.5 L785.2,1724.2 L794.7,1722.6 L804.3,1721.4" fill="none" stroke="#0000ff" stroke-width="2.6" stroke-linejoin="round"/>
<path d="M421.9,1656.5 L421.9,1923.8 L804.3,1923.8" fill="none" stroke="#262626" stroke-width="2.4" stroke-linecap="square"/>
<path d="M421.9,1923.8 h6 M421.9,1866.6 h6 M421.9,1809.0 h6 M421.9,1750.6 h6 M421.9,1693.0 h6 M517.5,1923.8 v-6 M613.1,1923.8 v-6 M708.7,1923.8 v-6 M804.3,1923.8 v-6" stroke="#262626" stroke-width="2.4" fill="none"/>
<text x="412.4" y="1934.3" font-size="24.5" text-anchor="end" font-weight="normal" fill="#262626" stroke="#262626" stroke-width="0.35" style="">0</text>
<text x="412.4" y="1877.1" font-size="24.5" text-anchor="end" font-weight="normal" fill="#262626" stroke="#262626" stroke-width="0.35" style="">0.05</text>
<text x="412.4" y="1819.5" font-size="24.5" text-anchor="end" font-weight="normal" fill="#262626" stroke="#262626" stroke-width="0.35" style="">0.1</text>
<text x="412.4" y="1761.1" font-size="24.5" text-anchor="end" font-weight="normal" fill="#262626" stroke="#262626" stroke-width="0.35" style="">0.15</text>
<text x="412.4" y="1703.5" font-size="24.5" text-anchor="end" font-weight="normal" fill="#262626" stroke="#262626" stroke-width="0.35" style="">0.2</text>
<path d="M1004.1,1635.5 L1014.0,1697.7 L1023.9,1752.6 L1033.8,1739.1 L1043.7,1756.3 L1053.6,1767.3 L1063.5,1778.2 L1073.4,1786.7 L1083.3,1796.5 L1093.2,1802.0 L1103.1,1808.6 L1113.0,1811.2 L1122.9,1814.8 L1132.8,1816.7 L1142.7,1820.3 L1152.6,1822.9 L1162.5,1823.3 L1172.4,1824.7 L1182.3,1827.7 L1192.2,1831.3 L1202.1,1835.0 L1212.0,1836.8 L1221.9,1837.9 L1231.8,1837.9 L1241.7,1838.6 L1251.6,1840.5 L1261.5,1840.5 L1271.4,1840.5 L1281.3,1840.5 L1291.2,1840.5 L1301.1,1841.6 L1311.0,1841.6 L1320.9,1841.6 L1330.8,1842.3 L1340.7,1842.3 L1350.6,1842.3 L1360.5,1842.3 L1370.4,1842.3 L1370.4,1880.7 L1360.5,1881.8 L1350.6,1882.6 L1340.7,1884.4 L1330.8,1885.5 L1320.9,1886.2 L1311.0,1886.2 L1301.1,1886.2 L1291.2,1888.1 L1281.3,1888.1 L1271.4,1888.1 L1261.5,1889.2 L1251.6,1890.6 L1241.7,1891.7 L1231.8,1890.6 L1221.9,1891.7 L1212.0,1889.9 L1202.1,1889.2 L1192.2,1888.1 L1182.3,1886.2 L1172.4,1888.1 L1162.5,1892.8 L1152.6,1893.5 L1142.7,1897.2 L1132.8,1897.2 L1122.9,1900.9 L1113.0,1900.1 L1103.1,1903.8 L1093.2,1904.5 L1083.3,1902.7 L1073.4,1900.1 L1063.5,1892.8 L1053.6,1893.5 L1043.7,1878.9 L1033.8,1891.7 L1023.9,1902.0 L1014.0,1902.7 L1004.1,1886.2 Z" fill="#0000ff" fill-opacity="0.115" stroke="none"/>
<path d="M1004.1,1662.9 L1014.0,1692.2 L1023.9,1732.5 L1033.8,1774.6 L1043.7,1778.2 L1053.6,1811.2 L1063.5,1814.8 L1073.4,1824.0 L1083.3,1842.3 L1093.2,1836.8 L1103.1,1841.6 L1113.0,1842.3 L1122.9,1841.6 L1132.8,1838.6 L1142.7,1836.8 L1152.6,1835.0 L1162.5,1836.8 L1172.4,1831.3 L1182.3,1829.5 L1192.2,1833.1 L1202.1,1835.0 L1212.0,1837.9 L1221.9,1839.4 L1231.8,1838.6 L1241.7,1838.6 L1251.6,1837.9 L1261.5,1837.9 L1271.4,1836.8 L1281.3,1836.8 L1291.2,1836.8 L1301.1,1837.9 L1311.0,1838.6 L1320.9,1837.9 L1330.8,1837.9 L1340.7,1838.6 L1350.6,1839.4 L1360.5,1839.4 L1370.4,1840.5 L1370.4,1854.0 L1360.5,1855.1 L1350.6,1856.2 L1340.7,1856.9 L1330.8,1858.8 L1320.9,1860.6 L1311.0,1862.4 L1301.1,1863.5 L1291.2,1865.0 L1281.3,1866.1 L1271.4,1867.9 L1261.5,1868.7 L1251.6,1870.8 L1241.7,1871.6 L1231.8,1873.4 L1221.9,1876.0 L1212.0,1875.2 L1202.1,1874.5 L1192.2,1874.5 L1182.3,1871.6 L1172.4,1876.0 L1162.5,1882.6 L1152.6,1882.6 L1142.7,1886.2 L1132.8,1889.9 L1122.9,1892.8 L1113.0,1896.5 L1103.1,1899.0 L1093.2,1897.9 L1083.3,1904.5 L1073.4,1899.0 L1063.5,1893.5 L1053.6,1895.4 L1043.7,1878.2 L1033.8,1889.9 L1023.9,1882.6 L1014.0,1847.8 L1004.1,1856.9 Z" fill="#ff0000" fill-opacity="0.115" stroke="none"/>
<path d="M1004.1,1759.9 L1014.0,1768.4 L1023.9,1818.5 L1033.8,1832.4 L1043.7,1829.5 L1053.6,1852.5 L1063.5,1854.0 L1073.4,1861.3 L1083.3,1873.4 L1093.2,1862.4 L1103.1,1869.8 L1113.0,1870.5 L1122.9,1867.2 L1132.8,1862.4 L1142.7,1859.5 L1152.6,1858.8 L1162.5,1861.3 L1172.4,1854.0 L1182.3,1849.6 L1192.2,1853.3 L1202.1,1855.1 L1212.0,1856.9 L1221.9,1858.8 L1231.8,1856.9 L1241.7,1856.2 L1251.6,1855.8 L1261.5,1855.1 L1271.4,1853.3 L1281.3,1851.4 L1291.2,1851.4 L1301.1,1850.7 L1311.0,1850.7 L1320.9,1849.6 L1330.8,1848.5 L1340.7,1848.9 L1350.6,1848.5 L1360.5,1848.2 L1370.4,1848.9" fill="none" stroke="#ee0000" stroke-width="2.6" stroke-linejoin="round"/>
<path d="M1004.1,1761.0 L1014.0,1807.5 L1023.9,1827.7 L1033.8,1815.9 L1043.7,1818.5 L1053.6,1823.3 L1063.5,1832.4 L1073.4,1837.9 L1083.3,1847.1 L1093.2,1848.5 L1103.1,1856.2 L1113.0,1857.7 L1122.9,1857.7 L1132.8,1857.7 L1142.7,1862.4 L1152.6,1859.5 L1162.5,1861.3 L1172.4,1859.9 L1182.3,1856.9 L1192.2,1860.6 L1202.1,1860.6 L1212.0,1862.4 L1221.9,1864.3 L1231.8,1862.4 L1241.7,1863.2 L1251.6,1866.1 L1261.5,1866.1 L1271.4,1865.4 L1281.3,1865.0 L1291.2,1865.0 L1301.1,1864.3 L1311.0,1866.1 L1320.9,1863.5 L1330.8,1865.0 L1340.7,1865.0 L1350.6,1863.2 L1360.5,1862.4 L1370.4,1861.7" fill="none" stroke="#0000ff" stroke-width="2.6" stroke-linejoin="round"/>
<path d="M974.4,1635.5 L974.4,1923.9 L1370.4,1923.9" fill="none" stroke="#262626" stroke-width="2.4" stroke-linecap="square"/>
<path d="M974.4,1923.9 h6 M974.4,1833.1 h6 M974.4,1741.6 h6 M974.4,1650.1 h6 M1073.4,1923.9 v-6 M1172.4,1923.9 v-6 M1271.4,1923.9 v-6 M1370.4,1923.9 v-6" stroke="#262626" stroke-width="2.4" fill="none"/>
<text x="964.9" y="1934.4" font-size="24.5" text-anchor="end" font-weight="normal" fill="#262626" stroke="#262626" stroke-width="0.35" style="">0.8</text>
<text x="964.9" y="1843.6" font-size="24.5" text-anchor="end" font-weight="normal" fill="#262626" stroke="#262626" stroke-width="0.35" style="">1</text>
<text x="964.9" y="1752.1" font-size="24.5" text-anchor="end" font-weight="normal" fill="#262626" stroke="#262626" stroke-width="0.35" style="">1.2</text>
<text x="964.9" y="1660.6" font-size="24.5" text-anchor="end" font-weight="normal" fill="#262626" stroke="#262626" stroke-width="0.35" style="">1.4</text>
<path d="M450.7,2041.9 L460.8,2000.3 L470.9,2012.0 L481.0,2017.0 L491.1,2044.3 L501.2,2054.8 L511.3,2050.9 L521.4,2058.7 L531.5,2048.9 L541.6,2056.7 L551.7,2044.3 L561.8,2045.8 L571.9,2061.4 L582.0,2063.7 L592.1,2065.3 L602.2,2071.5 L612.3,2074.2 L622.4,2083.2 L632.5,2087.9 L642.6,2093.7 L652.7,2096.8 L662.8,2101.5 L672.9,2105.4 L683.0,2109.3 L693.1,2110.0 L703.2,2112.4 L713.3,2115.1 L723.4,2117.0 L733.5,2119.0 L743.6,2120.2 L753.7,2120.9 L763.8,2122.9 L773.9,2124.8 L784.0,2126.8 L794.1,2130.7 L804.2,2134.6 L814.3,2137.7 L824.4,2138.4 L824.4,2242.7 L814.3,2241.5 L804.2,2240.4 L794.1,2238.8 L784.0,2237.6 L773.9,2236.8 L763.8,2235.7 L753.7,2233.7 L743.6,2232.6 L733.5,2231.0 L723.4,2228.7 L713.3,2227.9 L703.2,2226.0 L693.1,2224.8 L683.0,2223.2 L672.9,2223.2 L662.8,2220.1 L652.7,2218.2 L642.6,2215.4 L632.5,2212.3 L622.4,2212.3 L612.3,2206.5 L602.2,2204.6 L592.1,2200.7 L582.0,2198.7 L571.9,2196.0 L561.8,2189.8 L551.7,2188.6 L541.6,2185.5 L531.5,2181.6 L521.4,2180.8 L511.3,2175.4 L501.2,2186.3 L491.1,2178.1 L481.0,2176.5 L470.9,2168.0 L460.8,2168.0 L450.7,2186.7 Z" fill="#0000ff" fill-opacity="0.115" stroke="none"/>
<path d="M450.7,2161.0 L460.8,2147.7 L470.9,2129.1 L481.0,2122.8 L491.1,2129.8 L501.2,2127.5 L511.3,2129.8 L521.4,2125.6 L531.5,2126.3 L541.6,2134.9 L551.7,2127.5 L561.8,2126.7 L571.9,2134.5 L582.0,2127.5 L592.1,2130.6 L602.2,2134.5 L612.3,2145.4 L622.4,2142.3 L632.5,2152.0 L642.6,2154.0 L652.7,2159.8 L662.8,2165.6 L672.9,2167.6 L683.0,2165.6 L693.1,2171.5 L703.2,2175.4 L713.3,2176.5 L723.4,2181.2 L733.5,2183.2 L743.6,2187.0 L753.7,2189.0 L763.8,2192.1 L773.9,2194.8 L784.0,2196.8 L794.1,2199.9 L804.2,2202.6 L814.3,2204.6 L824.4,2208.4 L824.4,2262.1 L814.3,2259.0 L804.2,2255.9 L794.1,2253.2 L784.0,2251.2 L773.9,2249.3 L763.8,2247.4 L753.7,2244.6 L743.6,2241.5 L733.5,2238.8 L723.4,2235.7 L713.3,2233.7 L703.2,2231.8 L693.1,2227.9 L683.0,2226.0 L672.9,2226.0 L662.8,2224.0 L652.7,2222.1 L642.6,2220.1 L632.5,2216.2 L622.4,2214.3 L612.3,2212.3 L602.2,2211.6 L592.1,2206.5 L582.0,2204.6 L571.9,2202.6 L561.8,2200.7 L551.7,2200.7 L541.6,2198.3 L531.5,2190.5 L521.4,2191.7 L511.3,2196.8 L501.2,2194.8 L491.1,2193.3 L481.0,2196.8 L470.9,2206.9 L460.8,2223.6 L450.7,2233.0 Z" fill="#ff0000" fill-opacity="0.115" stroke="none"/>
<path d="M450.7,2196.8 L460.8,2185.1 L470.9,2167.6 L481.0,2159.0 L491.1,2161.8 L501.2,2161.8 L511.3,2162.9 L521.4,2157.9 L531.5,2157.9 L541.6,2166.8 L551.7,2164.5 L561.8,2167.6 L571.9,2170.7 L582.0,2178.5 L592.1,2176.5 L602.2,2183.2 L612.3,2184.3 L622.4,2189.0 L632.5,2196.0 L642.6,2196.8 L652.7,2196.0 L662.8,2199.5 L672.9,2202.6 L683.0,2203.4 L693.1,2206.5 L703.2,2209.2 L713.3,2211.6 L723.4,2216.2 L733.5,2218.9 L743.6,2222.1 L753.7,2223.2 L763.8,2225.2 L773.9,2227.1 L784.0,2229.8 L794.1,2231.8 L804.2,2232.6 L814.3,2233.7 L824.4,2234.9" fill="none" stroke="#ee0000" stroke-width="2.6" stroke-linejoin="round"/>
<path d="M450.7,2115.8 L460.8,2082.8 L470.9,2089.8 L481.0,2096.8 L491.1,2111.9 L501.2,2120.9 L511.3,2113.1 L521.4,2120.1 L531.5,2115.1 L541.6,2120.9 L551.7,2116.2 L561.8,2118.9 L571.9,2132.6 L582.0,2133.3 L592.1,2132.6 L602.2,2136.5 L612.3,2139.6 L622.4,2144.2 L632.5,2147.0 L642.6,2150.9 L652.7,2152.0 L662.8,2155.9 L672.9,2158.6 L683.0,2162.9 L693.1,2161.8 L703.2,2162.9 L713.3,2164.9 L723.4,2165.6 L733.5,2168.8 L743.6,2169.5 L753.7,2168.8 L763.8,2170.7 L773.9,2172.6 L784.0,2175.4 L794.1,2179.3 L804.2,2183.2 L814.3,2185.1 L824.4,2185.1" fill="none" stroke="#0000ff" stroke-width="2.6" stroke-linejoin="round"/>
<path d="M420.4,1989.8 L420.4,2279.8 L824.4,2279.8" fill="none" stroke="#262626" stroke-width="2.4" stroke-linecap="square"/>
<path d="M420.4,2279.5 h6 M420.4,2136.5 h6 M420.4,1993.5 h6 M521.4,2279.8 v-6 M622.4,2279.8 v-6 M723.4,2279.8 v-6 M824.4,2279.8 v-6" stroke="#262626" stroke-width="2.4" fill="none"/>
<text x="410.9" y="2290.0" font-size="24.5" text-anchor="end" font-weight="normal" fill="#262626" stroke="#262626" stroke-width="0.35" style="">5</text>
<text x="410.9" y="2147.0" font-size="24.5" text-anchor="end" font-weight="normal" fill="#262626" stroke="#262626" stroke-width="0.35" style="">10</text>
<text x="410.9" y="2004.0" font-size="24.5" text-anchor="end" font-weight="normal" fill="#262626" stroke="#262626" stroke-width="0.35" style="">15</text>
<path d="M750.7,1990.6 h6.0 M753.7,1987.6 v6.0 M751.8,1988.7 l3.7,3.7 M751.8,1992.5 l3.7,-3.7 M760.8,1990.6 h6.0 M763.8,1987.6 v6.0 M761.9,1988.7 l3.7,3.7 M761.9,1992.5 l3.7,-3.7 M770.9,1990.6 h6.0 M773.9,1987.6 v6.0 M772.0,1988.7 l3.7,3.7 M772.0,1992.5 l3.7,-3.7 M781.0,1990.6 h6.0 M784.0,1987.6 v6.0 M782.1,1988.7 l3.7,3.7 M782.1,1992.5 l3.7,-3.7 M791.1,1990.6 h6.0 M794.1,1987.6 v6.0 M792.2,1988.7 l3.7,3.7 M792.2,1992.5 l3.7,-3.7 M821.4,1990.6 h6.0 M824.4,1987.6 v6.0 M822.5,1988.7 l3.7,3.7 M822.5,1992.5 l3.7,-3.7" stroke="#333" stroke-width="0.9" fill="none"/>
<g fill="#111"><circle cx="753.7" cy="1990.6" r="1.2"/><circle cx="763.8" cy="1990.6" r="1.2"/><circle cx="773.9" cy="1990.6" r="1.2"/><circle cx="784.0" cy="1990.6" r="1.2"/><circle cx="794.1" cy="1990.6" r="1.2"/><circle cx="824.4" cy="1990.6" r="1.2"/></g>
<path d="M1003.1,2013.2 L1013.0,2028.6 L1022.9,2046.9 L1032.9,2063.3 L1042.8,2076.1 L1052.7,2090.8 L1062.7,2101.8 L1072.6,2112.8 L1082.5,2120.1 L1092.5,2127.4 L1102.4,2138.4 L1112.3,2142.0 L1122.2,2151.2 L1132.2,2154.8 L1142.1,2162.2 L1152.0,2167.7 L1162.0,2172.0 L1171.9,2177.9 L1181.8,2182.3 L1191.8,2186.0 L1201.7,2189.6 L1211.6,2195.1 L1221.5,2196.9 L1231.5,2201.3 L1241.4,2204.3 L1251.3,2207.2 L1261.3,2209.8 L1271.2,2214.5 L1281.1,2218.2 L1291.1,2220.7 L1301.0,2224.4 L1310.9,2228.1 L1320.8,2231.7 L1330.8,2232.8 L1340.7,2235.4 L1350.6,2237.2 L1360.6,2240.9 L1370.5,2242.7 L1370.5,2266.5 L1360.6,2262.8 L1350.6,2259.2 L1340.7,2257.3 L1330.8,2253.7 L1320.8,2251.1 L1310.9,2247.5 L1301.0,2245.3 L1291.1,2242.7 L1281.1,2240.1 L1271.2,2237.9 L1261.3,2234.3 L1251.3,2232.8 L1241.4,2230.6 L1231.5,2228.1 L1221.5,2226.2 L1211.6,2222.6 L1201.7,2219.6 L1191.8,2215.2 L1181.8,2213.4 L1171.9,2207.9 L1162.0,2205.0 L1152.0,2201.3 L1142.1,2196.9 L1132.2,2193.3 L1122.2,2188.9 L1112.3,2184.1 L1102.4,2180.5 L1092.5,2176.8 L1082.5,2170.6 L1072.6,2163.3 L1062.7,2156.7 L1052.7,2149.4 L1042.8,2143.9 L1032.9,2134.7 L1022.9,2125.6 L1013.0,2108.4 L1003.1,2099.9 Z" fill="#0000ff" fill-opacity="0.115" stroke="none"/>
<path d="M1003.1,2021.2 L1013.0,2043.2 L1022.9,2063.3 L1032.9,2076.1 L1042.8,2086.4 L1052.7,2096.3 L1062.7,2107.3 L1072.6,2116.4 L1082.5,2123.0 L1092.5,2134.7 L1102.4,2142.0 L1112.3,2145.7 L1122.2,2153.0 L1132.2,2158.5 L1142.1,2164.0 L1152.0,2169.5 L1162.0,2174.2 L1171.9,2180.5 L1181.8,2184.1 L1191.8,2187.8 L1201.7,2191.4 L1211.6,2196.2 L1221.5,2199.9 L1231.5,2202.4 L1241.4,2204.3 L1251.3,2207.2 L1261.3,2210.8 L1271.2,2214.5 L1281.1,2217.1 L1291.1,2220.7 L1301.0,2222.6 L1310.9,2226.2 L1320.8,2228.1 L1330.8,2230.6 L1340.7,2231.7 L1350.6,2235.4 L1360.6,2237.2 L1370.5,2240.1 L1370.5,2261.0 L1360.6,2255.5 L1350.6,2254.8 L1340.7,2252.6 L1330.8,2251.1 L1320.8,2248.9 L1310.9,2247.5 L1301.0,2245.3 L1291.1,2243.8 L1281.1,2240.9 L1271.2,2239.0 L1261.3,2235.4 L1251.3,2233.5 L1241.4,2231.7 L1231.5,2229.2 L1221.5,2226.2 L1211.6,2223.3 L1201.7,2220.7 L1191.8,2218.2 L1181.8,2214.5 L1171.9,2210.8 L1162.0,2207.2 L1152.0,2202.4 L1142.1,2198.8 L1132.2,2195.1 L1122.2,2191.4 L1112.3,2186.0 L1102.4,2182.3 L1092.5,2177.9 L1082.5,2174.2 L1072.6,2166.9 L1062.7,2160.3 L1052.7,2154.8 L1042.8,2145.7 L1032.9,2136.5 L1022.9,2127.4 L1013.0,2112.8 L1003.1,2097.4 Z" fill="#ff0000" fill-opacity="0.115" stroke="none"/>
<path d="M1003.1,2056.0 L1013.0,2070.7 L1022.9,2090.1 L1032.9,2098.1 L1042.8,2107.3 L1052.7,2117.5 L1062.7,2126.7 L1072.6,2136.5 L1082.5,2142.0 L1092.5,2151.2 L1102.4,2154.8 L1112.3,2160.3 L1122.2,2165.8 L1132.2,2170.6 L1142.1,2176.8 L1152.0,2182.3 L1162.0,2186.7 L1171.9,2191.4 L1181.8,2195.1 L1191.8,2199.9 L1201.7,2203.5 L1211.6,2207.2 L1221.5,2211.6 L1231.5,2214.5 L1241.4,2215.2 L1251.3,2218.2 L1261.3,2221.8 L1271.2,2226.2 L1281.1,2228.1 L1291.1,2231.7 L1301.0,2234.3 L1310.9,2236.5 L1320.8,2238.3 L1330.8,2242.0 L1340.7,2241.6 L1350.6,2244.5 L1360.6,2246.4 L1370.5,2252.9" fill="none" stroke="#ee0000" stroke-width="2.6" stroke-linejoin="round"/>
<path d="M1003.1,2056.7 L1013.0,2070.7 L1022.9,2087.9 L1032.9,2098.1 L1042.8,2108.4 L1052.7,2116.4 L1062.7,2125.6 L1072.6,2131.1 L1082.5,2142.0 L1092.5,2148.3 L1102.4,2158.5 L1112.3,2164.0 L1122.2,2169.5 L1132.2,2176.8 L1142.1,2181.6 L1152.0,2188.9 L1162.0,2194.0 L1171.9,2198.8 L1181.8,2203.5 L1191.8,2206.1 L1201.7,2211.6 L1211.6,2211.6 L1221.5,2217.1 L1231.5,2220.7 L1241.4,2222.6 L1251.3,2226.2 L1261.3,2229.9 L1271.2,2234.3 L1281.1,2235.4 L1291.1,2238.3 L1301.0,2240.9 L1310.9,2243.8 L1320.8,2243.8 L1330.8,2248.2 L1340.7,2250.0 L1350.6,2253.7 L1360.6,2254.4 L1370.5,2258.4" fill="none" stroke="#0000ff" stroke-width="2.6" stroke-linejoin="round"/>
<path d="M973.3,1990.9 L973.3,2279.3 L1370.5,2279.3" fill="none" stroke="#262626" stroke-width="2.4" stroke-linecap="square"/>
<path d="M973.3,2279.3 h6 M973.3,2207.9 h6 M973.3,2135.4 h6 M973.3,2063.3 h6 M973.3,1990.9 h6 M1072.6,2279.3 v-6 M1171.9,2279.3 v-6 M1271.2,2279.3 v-6 M1370.5,2279.3 v-6" stroke="#262626" stroke-width="2.4" fill="none"/>
<text x="963.8" y="2289.8" font-size="24.5" text-anchor="end" font-weight="normal" fill="#262626" stroke="#262626" stroke-width="0.35" style="">0.1</text>
<text x="963.8" y="2218.4" font-size="24.5" text-anchor="end" font-weight="normal" fill="#262626" stroke="#262626" stroke-width="0.35" style="">0.2</text>
<text x="963.8" y="2145.9" font-size="24.5" text-anchor="end" font-weight="normal" fill="#262626" stroke="#262626" stroke-width="0.35" style="">0.3</text>
<text x="963.8" y="2073.8" font-size="24.5" text-anchor="end" font-weight="normal" fill="#262626" stroke="#262626" stroke-width="0.35" style="">0.4</text>
<text x="963.8" y="2001.4" font-size="24.5" text-anchor="end" font-weight="normal" fill="#262626" stroke="#262626" stroke-width="0.35" style="">0.5</text>
<text transform="translate(354.3,324.6) rotate(-90)" x="0" y="0" font-size="26.0" text-anchor="middle" fill="#000" textLength="263.4" lengthAdjust="spacingAndGlyphs">Average node strength</text>
<text transform="translate(353.7,672.2) rotate(-90)" x="0" y="0" font-size="26.0" text-anchor="middle" fill="#000" textLength="342.4" lengthAdjust="spacingAndGlyphs">Average clustering coefficient</text>
<text transform="translate(353.3,1007.8) rotate(-90)" x="0" y="0" font-size="26.0" text-anchor="middle" fill="#000" textLength="237.0" lengthAdjust="spacingAndGlyphs">Average eccentricity</text>
<text transform="translate(881.3,327.9) rotate(-90)" x="0" y="0" font-size="26.0" text-anchor="middle" fill="#000" textLength="93.5" lengthAdjust="spacingAndGlyphs">Average</text>
<text transform="translate(916.8,327.2) rotate(-90)" x="0" y="0" font-size="26.0" text-anchor="middle" fill="#000" textLength="297.5" lengthAdjust="spacingAndGlyphs">characteristic path length</text>
<text transform="translate(914.0,678.4) rotate(-90)" x="0" y="0" font-size="26.0" text-anchor="middle" fill="#000" textLength="192.8" lengthAdjust="spacingAndGlyphs">Small-worldness</text>
<text transform="translate(914.0,1002.8) rotate(-90)" x="0" y="0" font-size="26.0" text-anchor="middle" fill="#000" textLength="130.0" lengthAdjust="spacingAndGlyphs">Modularity</text>
<text transform="translate(353.5,1432.1) rotate(-90)" x="0" y="0" font-size="26.0" text-anchor="middle" fill="#000" textLength="265.6" lengthAdjust="spacingAndGlyphs">Average node strength</text>
<text transform="translate(353.4,1796.6) rotate(-90)" x="0" y="0" font-size="26.0" text-anchor="middle" fill="#000" textLength="338.0" lengthAdjust="spacingAndGlyphs">Averageclustering coefficient</text>
<text transform="translate(352.1,2132.2) rotate(-90)" x="0" y="0" font-size="26.0" text-anchor="middle" fill="#000" textLength="237.7" lengthAdjust="spacingAndGlyphs">Average eccentricity</text>
<text transform="translate(881.2,1419.9) rotate(-90)" x="0" y="0" font-size="26.0" text-anchor="middle" fill="#000" textLength="92.0" lengthAdjust="spacingAndGlyphs">Average</text>
<text transform="translate(917.3,1420.3) rotate(-90)" x="0" y="0" font-size="26.0" text-anchor="middle" fill="#000" textLength="299.0" lengthAdjust="spacingAndGlyphs">characteristic path length</text>
<text transform="translate(914.0,1779.3) rotate(-90)" x="0" y="0" font-size="26.0" text-anchor="middle" fill="#000" textLength="190.0" lengthAdjust="spacingAndGlyphs">Small-worldness</text>
<text transform="translate(914.0,2131.0) rotate(-90)" x="0" y="0" font-size="26.0" text-anchor="middle" fill="#000" textLength="128.0" lengthAdjust="spacingAndGlyphs">Modularity</text>
<text x="420.4" y="2313.5" font-size="24.0" text-anchor="middle" font-weight="normal" fill="#262626"  style="">0</text>
<text x="521.4" y="2313.5" font-size="24.0" text-anchor="middle" font-weight="normal" fill="#262626"  style="">10</text>
<text x="622.4" y="2313.5" font-size="24.0" text-anchor="middle" font-weight="normal" fill="#262626"  style="">20</text>
<text x="723.4" y="2313.5" font-size="24.0" text-anchor="middle" font-weight="normal" fill="#262626"  style="">30</text>
<text x="824.4" y="2313.5" font-size="24.0" text-anchor="middle" font-weight="normal" fill="#262626"  style="">40</text>
<text x="973.3" y="2313.5" font-size="24.0" text-anchor="middle" font-weight="normal" fill="#262626"  style="">0</text>
<text x="1072.6" y="2313.5" font-size="24.0" text-anchor="middle" font-weight="normal" fill="#262626"  style="">10</text>
<text x="1171.9" y="2313.5" font-size="24.0" text-anchor="middle" font-weight="normal" fill="#262626"  style="">20</text>
<text x="1271.2" y="2313.5" font-size="24.0" text-anchor="middle" font-weight="normal" fill="#262626"  style="">30</text>
<text x="1370.5" y="2313.5" font-size="24.0" text-anchor="middle" font-weight="normal" fill="#262626"  style="">40</text>
<text x="622.0" y="2359.5" font-size="37.0" text-anchor="middle" font-weight="normal" fill="#262626" textLength="81.0" lengthAdjust="spacingAndGlyphs"  style="">PT%</text>
<text x="1171.5" y="2359.5" font-size="37.0" text-anchor="middle" font-weight="normal" fill="#262626" textLength="79.5" lengthAdjust="spacingAndGlyphs"  style="">PT%</text>
</svg></body></html>
